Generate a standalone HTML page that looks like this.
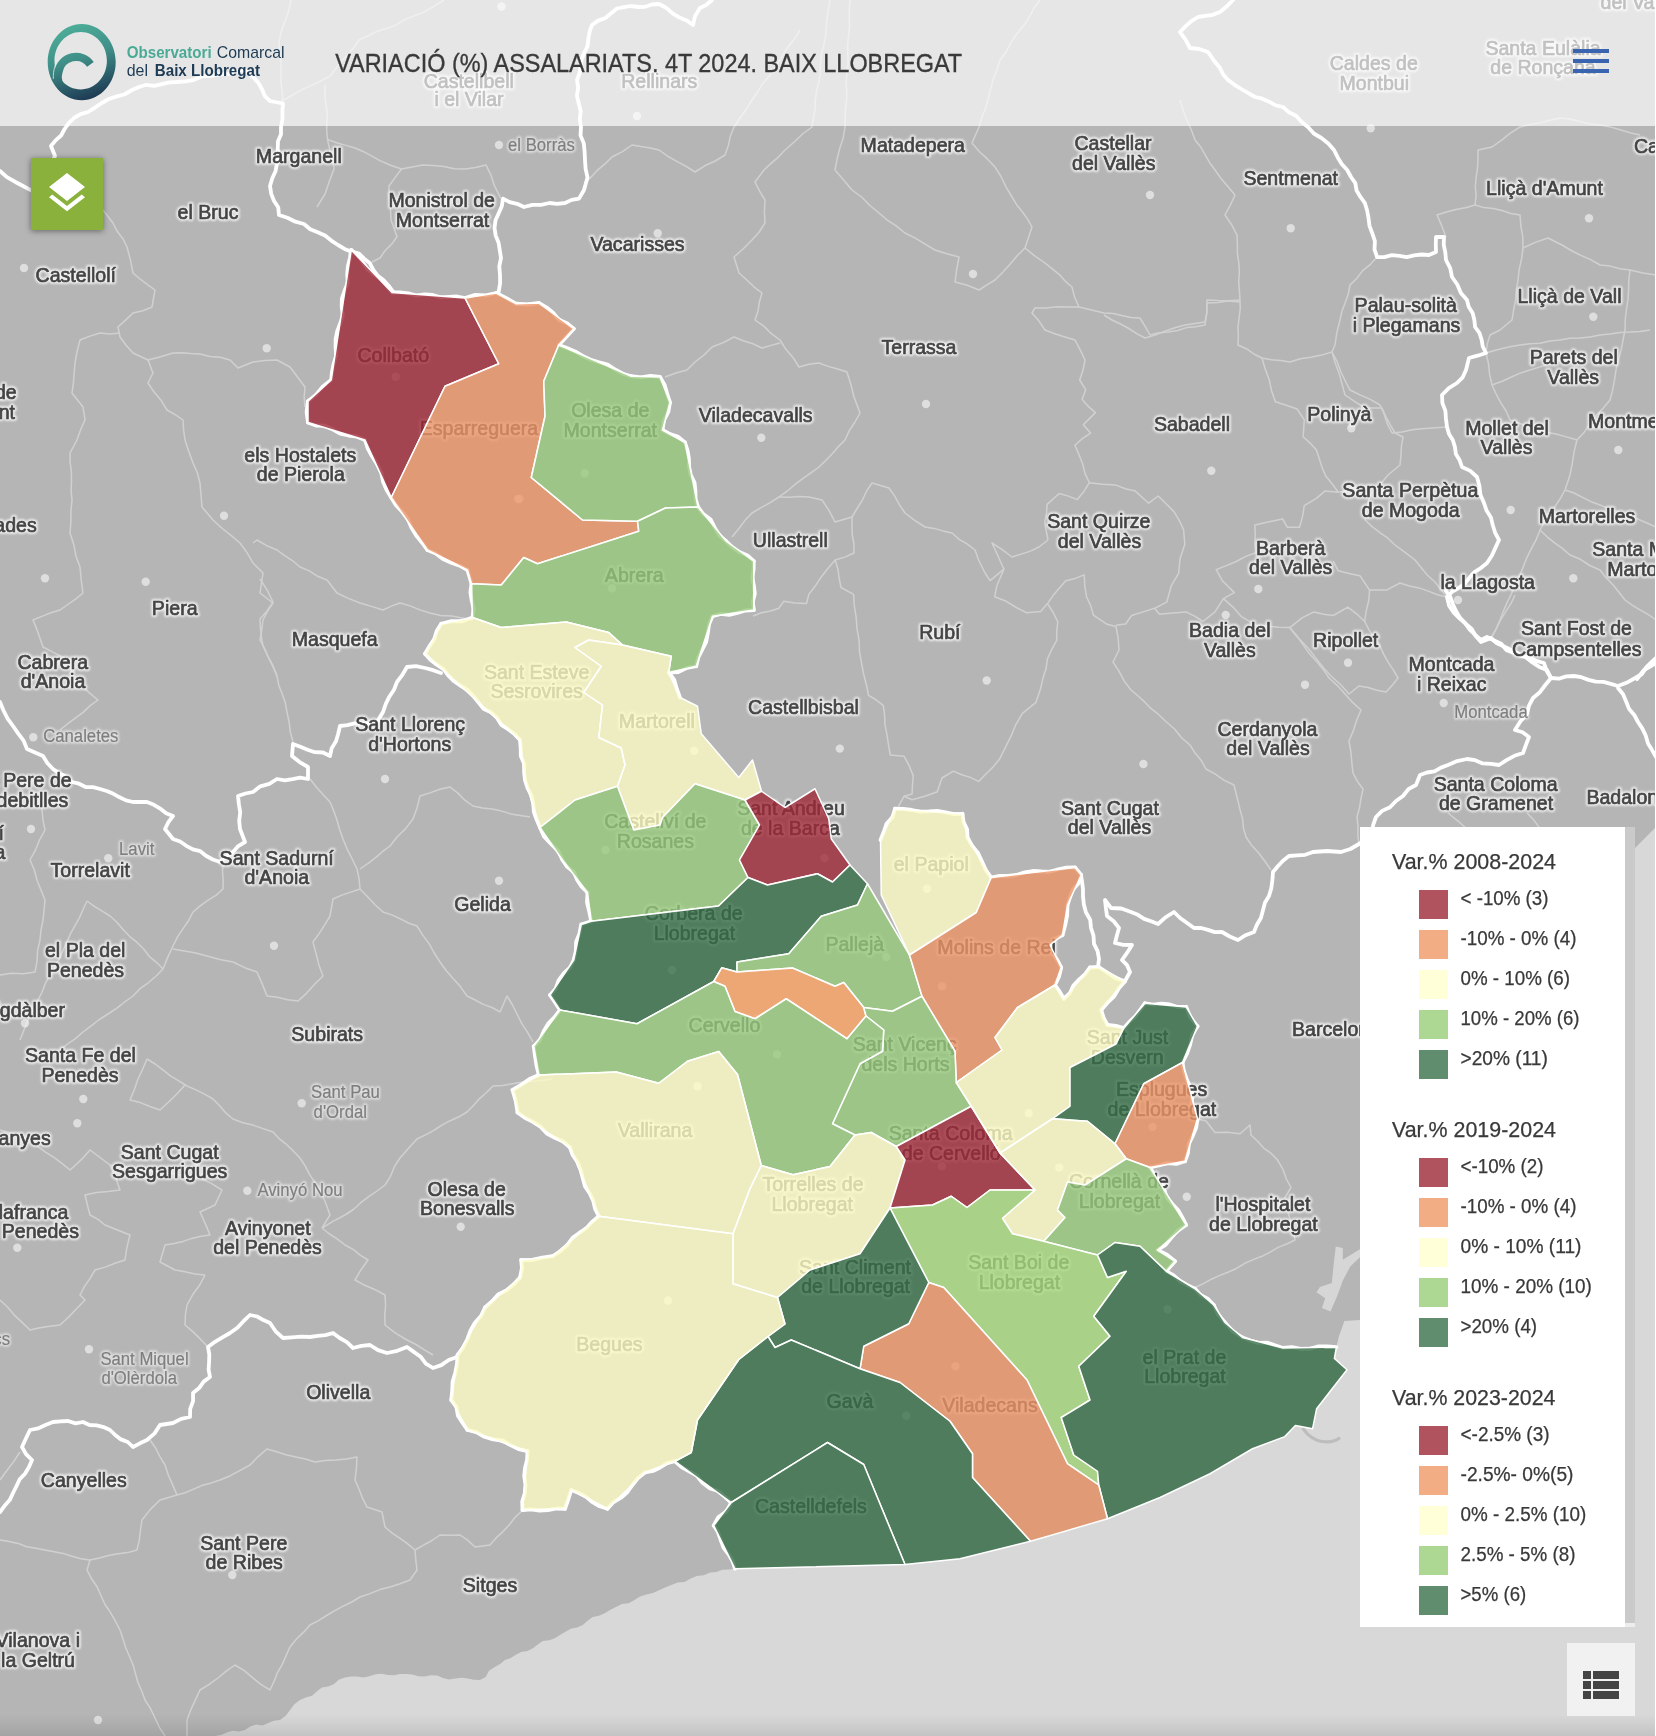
<!DOCTYPE html>
<html lang="ca"><head><meta charset="utf-8"><title>VARIACIÓ (%) ASSALARIATS. 4T 2024. BAIX LLOBREGAT</title>
<style>
html,body{margin:0;padding:0}
body{width:1656px;height:1736px;overflow:hidden;position:relative;background:#b5b5b5;font-family:"Liberation Sans",sans-serif}
.map{position:absolute;left:0;top:0;display:block}
.lb text,.lh text{font-family:"Liberation Sans",sans-serif;font-size:20.6px;stroke-linejoin:round}
.lh text.n{fill:#fff;stroke:#fff;stroke-width:4.2px;opacity:.78}
.lh text.s{fill:#fff;stroke:#fff;stroke-width:3.4px;opacity:.55;font-size:17.6px}
.lb text.n{fill:#444;stroke:#444;stroke-width:.7px}
.lb text.s{fill:#7e7e7e;stroke:#7e7e7e;stroke-width:.2px;font-size:17.6px}
.header{position:absolute;left:0;top:0;width:1656px;height:126px;background:rgba(255,255,255,.665)}
.hd{display:block}
.btn-layers{position:absolute;left:31px;top:158px;width:72px;height:72px;background:#8ab13c;box-shadow:0 1px 6px rgba(0,0,0,.45)}
.btn-layers svg{position:absolute;left:12px;top:11px}
.legend{position:absolute;left:1360px;top:827px;width:275px;height:800px;background:#fff;overflow:hidden}
.legend .leg{position:absolute;left:0;top:0;will-change:transform;filter:contrast(1)}
.legend .track{position:absolute;right:0;top:0;width:10px;height:800px;background:#ededed}
.legend .thumb{position:absolute;right:0;top:0;width:10px;height:796px;background:#cacaca}
.lt{font-family:"Liberation Sans",sans-serif;font-size:22px;fill:#393939;stroke:#393939;stroke-width:.25px}
.li{font-family:"Liberation Sans",sans-serif;font-size:19.300px;fill:#393939;stroke:#393939;stroke-width:.25px}
.btn-list{position:absolute;left:1567px;top:1643px;width:68px;height:73px;background:#f1f1f1}
.btn-list i{position:absolute;background:#444;height:8px}
.shade{position:absolute;left:0;bottom:0;width:1655px;height:21px;background:linear-gradient(to bottom,rgba(0,0,0,0),rgba(0,0,0,.03) 35%,rgba(0,0,0,.095))}
.edge{position:absolute;right:0;top:0;width:1px;height:1736px;background:#fff}
</style></head><body>
<svg class="map" width="1656" height="1736" viewBox="0 0 1656 1736">
<defs><filter id="bl" x="-5%" y="-5%" width="110%" height="110%"><feGaussianBlur stdDeviation="0.6"/></filter><filter id="bt" x="-5%" y="-5%" width="110%" height="110%"><feGaussianBlur stdDeviation="0.7"/></filter><filter id="bh" x="-5%" y="-5%" width="110%" height="110%"><feGaussianBlur stdDeviation="0.8"/></filter></defs>
<rect width="1656" height="1736" fill="#b5b5b5"/>
<polygon points="1656,827 1635,848 1600,900 1500,1100 1400,1250 1375,1310 1360,1320 1344.4,1321 1339,1336 1336.4,1347.2 1334.4,1358.5 1347,1369.7 1316.6,1408.8 1312.6,1428.7 1295.4,1425.4 1284.8,1436.6 1252.5,1448.75 1210,1473.75 1160,1497.5 1107.5,1518.75 1031,1541 960,1558.75 905,1564.5 735,1568.75 728.7,1569.6 722.4,1569.7 716.3,1572.1 710,1572.5 703.8,1575.2 696.9,1576 690.6,1578.5 684.6,1582.1 677.7,1582.6 671.3,1584.9 665,1587.5 659,1590.3 653,1593.1 646.4,1594.4 640.1,1596.5 634.5,1600.1 628.7,1603.3 621.8,1604 615.9,1607.1 610,1610 604.7,1613.3 599,1615.7 592.7,1617.1 587.6,1620.7 582.8,1625.1 577.1,1627.4 570.8,1628.8 565.4,1631.8 560,1635 554.8,1638.2 549.2,1640.3 542.8,1641.1 537.8,1644.6 532.9,1648.3 527.5,1651.1 521.2,1651.9 515.9,1654.7 510.7,1658 505,1660 500.1,1664.1 494.4,1667.3 489,1670.8 485.7,1676.9 480,1680 473.8,1679.8 467.7,1678.5 461.6,1677.7 455.4,1678.4 449.1,1679.4 443,1678.1 437,1675.6 430.9,1675.2 424.6,1676.4 418.4,1676.2 412.3,1674.4 406.2,1674 400,1674 393.9,1675.3 387.8,1675 381.6,1673.7 375.5,1674.3 369.5,1676.2 363.4,1677.4 357.2,1676.5 351.1,1676.6 345,1677.5 339,1679.6 334.1,1683.9 328.4,1686.5 321.9,1687.6 316.8,1691.4 312,1695.8 305.8,1697.4 300,1700 294.3,1704.3 290.1,1710.1 285.7,1715.7 280,1720 273.9,1720.8 268.2,1722.9 262.5,1725.4 256,1724.5 250.3,1726.5 244.8,1729.9 238.9,1731.4 232.5,1730.7 226.7,1732.4 221,1734.9 215,1736 1656,1736" fill="#d8d8d8"/>
<polygon points="1335.8,1246.6 1342.8,1247.9 1342.8,1259.8 1359.9,1249.2 1376,1240 1376,1250 1359.9,1257.2 1350.3,1266.4 1343,1280.3 1337.1,1296.2 1330.5,1311.5 1321.9,1308.1 1325.2,1298.2 1316.6,1292.3 1319.9,1286.9 1331.8,1283 1333.8,1263.1" fill="#d6d6d6"/>
<path d="M1303 1428.700Q1311 1440 1322 1441.500T1339 1438.500" fill="none" stroke="#bdbdbd" stroke-width="3.200" stroke-linecap="round"/>
<g fill="none" stroke="#e2e2e2" stroke-width="1.5" stroke-linejoin="round" opacity="0.62" filter="url(#bl)">
<polyline points="103,210 113,223 117.2,231.3 122.9,238.7 127,247 130.4,259.9 133,273 140.1,279 147.5,284.6 155,290 152,307 142.8,310.8 133,313 125.6,320.1 118,327 120,337 126.1,345.3 133,353 148,360 160.6,356.7 173,353 182,352.8 191,353.6 200,354 209.9,356.6 220.1,357.3 230,360 238,368 253,362 264.9,360.4 277,360 290,367 297.5,377 305,387 304.2,397 305,407"/>
<polyline points="120,333 110,333.9 100,333 89.9,336.1 80,340 77.1,351.4 75,363 74.2,373 73.4,383 72,393 83,407 85,420 80.6,429.8 77,440 70,453 70.1,462.4 71.4,471.8 71.5,481.2 71.1,490.6 72,500 70.9,511 70.9,522 70,533 73.7,544.2 75.9,555.9 80,567 81.2,580 83,593 75.6,599.1 67.8,604.5 60,610 50.8,612.8 41.9,616.4 33,620 36.7,628.9 39.9,637.9 43,647 51.9,651.6 60.8,656.1 70,660 71.1,669.5 72,679 81.1,685.4 89.4,692.9 98,700 90.1,705.6 83.1,712.4 75.3,718.2 67.5,723.9 60,730"/>
<polyline points="148,360 153,373 148,383 154.1,392.1 161.2,400.6 167,410 175.2,414.7 183,420 183.6,430 185,440 188.8,451.6 193,463 197.3,472.7 200,483 201,495 202,507 213,520 221.7,528 231,535.4 240,543 247,552.6 253,563 263,573 261.5,583 260,593 273,603 267.6,611.2 263,620 261.7,630 260,640 264.8,648.8 268.7,658 273,667 277,676 278.8,685.2 282.2,693.9 285.3,702.8 287,712 289.1,722 290.3,732.1 293,742"/>
<polyline points="253,543 257,540 266.7,545.7 277,550 284.7,555.6 292.7,560.8 300,567 309.2,570.9 317.7,576.3 327,580 337,593 348.3,598.4 360,603 371.5,606.4 383,610 391.3,606.1 400,603 410.1,605.9 419.9,609.9 430,613 440.6,615.5 451.6,616.1 462.3,617.9 473,620"/>
<polyline points="325,84.5 324.8,93.7 325.7,102.8 327.1,112 326.9,121.2 326.7,130.4 327.5,139.5 329.7,149.3 332.6,159 334,169 329.3,181.4 325,194 317,207"/>
<polyline points="327.5,139.5 336.5,142.8 345.8,145.4 355,148 363.6,151.7 371.8,156.1 380,160.6 390.6,165.3 401.5,169 412.1,167 422.6,165 433.3,165.4 443.8,166.6 454.3,168.8 465,169 475.6,167.5 486,165 491,175.2 494.5,186 501,198.6"/>
<polyline points="401.5,169 395.2,177.4 389,186 389.1,197.4 390.5,208.7 391,220 397,236.7 391.7,244.1 385.2,250.5 380,258 372,262"/>
<polyline points="283,103 282.3,92.8 281,82.7 281,72.5 281,62.3 279.5,52.2 279,42 281.3,31.3 285.1,21 288.7,10.7 291,0"/>
<polyline points="281,101 289.3,97 297.1,92.2 305.3,88.1 313.7,84.4 322,80.4 330,76 335.7,68.7 341.3,61.4 347.7,54.7 353.7,47.6 359,40 368,35.8 376.9,31.5 386.4,28.5 395.6,25.1 404.2,19.9 413.3,16.1 422.6,12.7 433.4,6.6 444,0"/>
<polyline points="585,183 591.7,176.4 598.1,169.6 605.3,163.6 612,157 622.4,151.7 632,145 641,146.6 650.1,147.9 659,150 667.6,156.1 676.8,161.3 686.1,166.3 695,172 704.7,165.8 715.2,161 725,155 728.3,145.8 730.3,136.1 734,127 740,118 746.3,109.2 752,100 757.6,92 762.7,83.6 769.2,76.2 774.8,68.3 780,60 784.6,52.2 789.7,44.8 795.3,37.7 800,30"/>
<polyline points="830,0 828.4,9 827.1,18.1 826.3,27.2 825.5,36.4 823.8,45.4 821.4,54.3 820.6,63.4 820.2,72.6 818.8,81.7 816.7,90.7 815.3,99.7 815.1,108.9 813.4,117.9 812,127 802.5,134 793.9,142.3 785,150 778.4,157.1 771,163.4 764,170 755,182 759.6,191.2 765,200 764.4,211.5 765,223 759.2,232 752,240 743.3,248.8 734,257 739,273 746.6,279.7 753.9,286.8 762,293 759.4,301.9 758,311.2 755,320 763.8,326.1 771.4,333.7 780,340 785.9,349.3 793.1,357.7 799,367 808.8,364.2 819,363 828.2,366.4 837.7,369 847,372 850.9,384.4 854,397 860,413 855,422 849.3,430.6 845,440 838.4,446.6 832.3,453.7 825.7,460.5 819,467 811,472.9 802.7,478.7 794.7,484.7 787.1,491.2 779,497 770.2,502.7 761,507.7 752,513 744.8,520.6 738.6,529 732,537"/>
<polyline points="780,343 771,345.4 762,348 752.9,343.7 743.3,340.8 734,337 723.3,342.6 712,347 704,355 695,362 687,370 675.9,373 665,377"/>
<polyline points="845,127 843.2,137.9 839.7,148.4 837.1,159.2 835,170 843.6,179.9 852,190 861.6,197 869.9,205.5 879,213 887.3,220.1 896.5,226.2 905,233 915.3,238.1 925.1,244.1 935,250 946.9,253.8 959,257 956.7,269.5 955,282 967.3,285.2 979,290 986.9,284.8 995,280 1002.8,272.3 1010.2,264.1 1017.2,255.7 1025,248 1028.5,237.5 1032,227 1027.6,219.1 1022.3,211.8 1016.6,204.7 1012,197 1006.1,187.1 1001.1,176.7 995,167 987.4,158.9 979.2,151.5 972,143 979,127 981.8,117.4 985.6,108 988.3,98.4 990.7,88.6 993.4,79 997,69.6 1000,60 1005.4,52.8 1009.8,44.9 1014.5,37.2 1019.9,29.9 1025.7,23 1030.3,15.2 1034.6,7.2 1040,0"/>
<polyline points="850,0 849.4,9.1 849.3,18.1 849.6,27.2 848.5,36.3 847.6,45.3 847.8,54.4 848.1,63.5 846.9,72.6 846.2,81.6 846.6,90.7 846.7,99.8 845.5,108.8 845.1,117.9 845,127"/>
<polyline points="1025,248 1034.7,255.8 1045,263 1052,268.7 1059.1,274.3 1065.1,281.1 1072,287 1074.7,297.3 1079,307 1091.5,309.9 1104,313 1113.1,313.4 1122,315.6 1130.9,317.5 1140,318 1145.1,326.4 1150,335 1159.1,332.7 1168.4,332 1177.6,330.5 1186.5,327.6 1195.8,326.7 1205,325 1206.8,312.6 1207,300 1218,300.6 1229,300.9 1240,302"/>
<polyline points="1079,307 1068,307 1057,306.7 1046,308.1 1035,308 1032,313 1039,321.1 1045,330 1054.8,333.8 1064.9,337 1075,340 1080.2,349.9 1085,360 1083,370.2 1079.7,380 1085.7,389.7 1082.1,399.3 1088.3,406.4 1095.4,412.6 1083.3,424.7 1090.6,433.1 1082.3,438.6 1074.9,445.2 1078.9,454.4 1082.6,463.8 1085.1,473.6 1089.4,482.7 1083.3,492.3 1077.3,499.6 1068.4,496.1 1059.2,493.5 1047.1,504.4 1046.5,513.5 1044.7,522.5 1048,540"/>
<polyline points="1089.4,482.7 1102.6,484.3 1115.9,485.1 1125.4,488.8 1135.3,491.1 1148.6,503.2 1158.2,496 1166.1,503.7 1173.9,511.6 1179.2,520.4 1183.6,529.8 1184.8,544.3 1180,558.7 1178.7,573.2 1171.5,585.3 1166.7,602.2 1154.6,608.3 1143.1,611.9 1131.6,615.5 1125.6,624 1115.9,625.2"/>
<polyline points="779,497 789,497.3 799,496.6 809,497 822,500 829.1,510.7 835,522 852,517 857.1,508.5 862.3,500.2 866.5,491.2 872,483 889,488 894.7,496.1 899.5,504.8 905,513 914.7,520.4 925,527 934.1,528.4 943,530.9 952,533 959.2,539.4 967.4,544.2 975,550 978.6,560 985,573"/>
<polyline points="1003.9,569.2 998,556 992,543 1002.2,549.7 1012,557 1021.2,554.1 1030.3,551.1 1039,547 1048,540"/>
<polyline points="852,517 852,526 852.3,535 853.9,544 854,553 844.8,557.1 835.2,560 828.1,568.2 821.4,576.7 815.4,585.8 808.8,594.4 806.5,603.6 795,603 783.6,601.3 779,608.2 770.4,611 761.5,612.8 753,616"/>
<polyline points="835.2,560 837.9,569 839.2,578.3 841,587.5 853.6,594.4 854.3,605.9 856.2,617.3 857,628.8 859.1,640.2 859.5,651.9 861.6,663.3 863.6,674.1 866.4,684.7 868.5,695.4 876.3,700 883.4,705.7 884.6,715.3 885,724.9 886.9,734.4 888.5,744.7 890.3,755 904,756.2 909.2,765.7 913.2,775.7 912.5,784.8 912.1,794 904,796.3 898.3,806.7"/>
<polyline points="985,573 990.1,580.7 1003.9,569.2 997,585.2 994.7,596.7 1006.2,601.3 1016.3,607.5 1026.8,612.8 1040.6,611.6 1047.5,603.6 1053.1,595.6 1059.4,588.1 1065.8,580.7 1075.2,578.4 1084.2,574.9 1084.8,585.9 1086.5,596.7 1090.7,605.6 1093.4,615.1 1107.1,624.3 1116,626.5"/>
<polyline points="1047.5,603.6 1053.2,612.5 1057.8,622 1056.7,631.1 1056.7,640.3 1051.8,649.3 1047.5,658.7 1046,668.8 1042.9,678.6 1040.6,688.5 1036,702.3 1022.2,713.7 1015.7,724.8 1010.8,736.7 1005,748.1 999.3,759.6 992.8,767.2 985.6,774.2 978.6,781.4 970.4,777.4 961.7,774.8 953.4,771.1 941.9,778 937.3,791.8 924.8,796.2 912.1,799.8 904,796.3"/>
<polyline points="1180,100 1183.2,110.2 1186.9,120.2 1191.4,130 1195,140 1200.7,147 1205.2,154.8 1209.7,162.7 1215,170 1221.2,178.7 1228.1,186.8 1235,195 1230.3,205.1 1225,215 1231.6,224.6 1237,235 1237.4,244.3 1237.4,253.6 1238.8,262.8 1239.4,272.1 1238.7,281.4 1239.4,290.7 1240,300 1240.2,309 1239.1,318 1238,327 1238.4,336 1238,345 1246.4,348.7 1253.8,354 1262,358 1271.3,359.8 1280.7,360.5 1290,362 1300.3,358.7 1311,357.2 1321.6,355.1 1332,352 1335.1,362.8 1339.1,373.3 1342.1,384.2 1345,395 1354.9,401.7 1365,408 1382,408 1385.8,416.6 1390.3,424.9 1395,433"/>
<polyline points="1104,315 1112,320 1120.5,324 1128.8,328.5 1136.7,333.6 1145,338 1155.1,335.1 1164.9,331.2 1174.9,327.8 1185,325 1195,323.5 1205,322 1206.8,312.6 1207,303 1218,302.4 1229,300.7 1240,300"/>
<polyline points="1262,358 1265.2,369.1 1269.3,380 1271.6,391.1 1275.4,401.7 1286.3,405.3 1297.1,409 1304.3,419.9 1303.1,436.8 1310.1,443.1 1316.4,450 1319.4,458.9 1322.2,468 1326.1,476.6 1332.5,484.2 1338.2,492.3 1324.9,491.1 1316.4,498.4 1304.3,505.6 1302.5,516.6 1299.5,527.3 1287.4,527.3 1282.6,518.9 1265.7,522.5 1254.8,524.9 1255.3,534.2 1254.9,543.5 1256,552.7 1245.8,556.4 1236.3,561.5 1226.3,565.6 1216.2,569.6 1222.2,580.5 1234.3,592.6 1223.4,598.6 1215,611.9 1202.9,621.5 1194.7,616.2 1186,611.9 1172.7,612.9 1159.4,614.3 1154.6,608.3"/>
<polyline points="1332,352 1337,361.3 1340.6,371.2 1345.1,380.7 1350,390 1360,394.9 1370.3,399.4 1380,405 1384.2,414.2 1387.4,423.9 1392,433 1402,431.9 1411.9,429.8 1421.9,428.7 1432,428 1447,427"/>
<polyline points="1395,433 1403,437 1401.4,446.3 1400.9,455.7 1400,465 1388,475 1379.4,485.4 1370,495 1360,492.4 1350,490 1338.2,492.3"/>
<polyline points="1370,495 1367,507.4 1365,520 1372.2,526.6 1379.9,532.6 1387.9,538.2 1395,545 1405.1,552.4 1415,560 1421.2,567.6 1427.4,575.2 1434.7,581.8 1440.8,589.4 1447,597"/>
<polyline points="1377,257 1370.5,264.3 1362.9,270.4 1356.9,278.2 1350,285 1348.3,294 1345.3,302.6 1342,311.1 1340,320 1336.9,332.4 1335,345 1332,352"/>
<polyline points="1223.4,598.6 1233,607.1 1241.5,616.7 1256,625.2 1267.3,626.1 1278.6,627.3 1289.9,627.6 1301.9,617.9 1314,611.9 1323.5,614.3 1333.3,615.5 1347.8,607.1 1356.6,613.8 1364.7,621.5 1366.2,611 1368.7,600.7 1369.6,590.1 1386.5,590.1 1400,583 1409.3,586 1419,587.9 1428.3,591.1 1437.4,594.8 1447,597"/>
<polyline points="1369.6,590.1 1359.9,575.7 1349,573.6 1338.2,570.8 1333.3,561.2"/>
<polyline points="1116,626.5 1118.2,638.2 1119,650 1113,662 1119.1,671.3 1124.3,681.1 1131,690 1137.9,695.8 1144.6,701.9 1150.9,708.4 1158,714 1166.1,721.7 1174.5,729 1181.6,737.7 1190,745 1195.1,753.1 1201.3,760.6 1206,769 1215.4,774.2 1224.3,780.4 1234,785 1238,801 1240.1,810 1242.6,818.9 1243.5,828.1 1246,837 1251.8,845.6 1258.9,853.2 1265.1,861.5 1271,870"/>
<polyline points="1289,627 1296.6,635.3 1302.9,644.6 1309.5,653.7 1317,662 1323.4,669.7 1329,678 1337.4,685.6 1345,694 1352.6,702.4 1361,710 1356.7,720.2 1353.3,730.8 1349,741 1350.8,751.6 1351.8,762.3 1353,773 1357.4,781.4 1363,789 1361,798.3 1359.5,807.8 1357,817 1358,826 1357.8,835 1359,844"/>
<polyline points="1515,595 1510.8,603.9 1505.4,612.2 1500.2,620.6 1496,629.5 1491,638"/>
<polyline points="1448,813 1457.7,820.8 1467,829"/>
<polyline points="1527,813 1533.4,819.6 1539,827"/>
<polyline points="1364.7,621.5 1369,629.9 1374.2,637.7 1379.7,645.3 1383.5,653.9 1388.1,662.1 1393.3,669.9 1398,678 1392.3,685.3 1386,692 1376.9,690.3 1368.1,687.5 1359,686 1349,694 1340.5,684.5 1331,676 1324.8,669.3 1319,662.3 1313.6,655.1 1308,648 1301.7,641.4 1295.3,634.9 1289.9,627.6"/>
<polyline points="1446,237 1441.8,225.9 1437,215 1446.4,212 1455.9,209.5 1465.5,207.7 1475,205 1476.1,195.9 1475.3,186.6 1476.1,177.5 1477.5,168.4 1478,159.2 1478,150 1492,147 1501.3,140.3 1510.3,133.2 1520,127 1529.9,124.5 1540.1,122.9 1550,120.3 1560,118 1570.1,119 1580,121.5 1589.9,124 1600,125 1610.1,126.9 1620.1,129.7 1629.9,132.8 1640,135"/>
<polyline points="1475,205 1483.9,207.6 1493.1,208.4 1502.1,210.5 1510.9,213.5 1520,215 1520.9,226 1522.8,236.9 1523,248 1535.3,242.4 1548,238 1562,245 1571.3,250.5 1580.8,255.4 1590.7,259.6 1600,265 1610.1,266.1 1619.9,268.7 1630,270 1642.9,273 1656,275"/>
<polyline points="1523,248 1521.6,258.7 1519.2,269.3 1518,280 1516.4,290 1515.6,300.1 1513.6,310 1512,320 1500,330 1490,335 1487.3,343.8 1486,353"/>
<polyline points="1486,353 1497.2,349.7 1508.5,347.1 1520,345 1530,343.7 1540.1,343.3 1550,341 1560,340 1569.9,338.2 1580,337.9 1590.1,337 1600,335 1610,334.1 1619.9,332.4 1630,332.1 1640,331.4 1650,330"/>
<polyline points="1486,353 1488.5,363.6 1489.6,374.4 1492,385 1501.6,381.5 1510.9,377.2 1520.2,373.1 1530,370 1540.1,366.9 1550.1,363.8 1560,360"/>
<polyline points="1492,385 1496.1,394 1500.7,402.6 1506.1,411 1510,420 1518.8,422.9 1527.2,426.8 1536.1,429.4 1545,432 1555.8,434 1566.4,436.9 1577,440 1574.1,451.6 1572.3,463.3 1570,475 1565,490 1560.4,498.3 1555.3,506.2 1549.5,513.7 1544.7,521.8 1540,530 1536.3,539.4 1531.5,548.3 1527,557.3 1523.3,566.6 1519.6,576 1515,585 1511.4,593.8 1507.2,602.4 1503.4,611.1 1500,620 1495.4,630.2 1490,640"/>
<polyline points="1565,490 1574.1,493 1582.5,497.4 1591.1,501.7 1600,505 1609.9,509.1 1620.1,512.2 1630.3,515.5 1640,520 1656,527"/>
<polyline points="1540,530 1547,536.8 1554.7,542.8 1562.6,548.6 1570,555 1580.4,559.3 1589.8,565.5 1600,570 1606,577.7 1612.9,584.7 1619,592.3 1625,600 1632.5,605.4 1640.4,610.2 1648.5,614.6 1656,620"/>
<polyline points="1630,270 1628.8,280 1628.6,290 1627.9,300 1626.4,310 1625.2,320 1625,330 1623,340 1621.2,350.1 1618.4,360 1616,369.9 1614.5,380.1 1612.6,390.1 1610,400 1603.3,407.9 1596.2,415.5 1590,423.8 1584.1,432.4 1577,440"/>
<polyline points="1197.5,1118.75 1206,1121 1215,1132.5 1227.5,1132.3 1240,1133.8 1250,1125 1251,1135 1257.6,1141.3 1263.7,1148.1 1271.2,1153.4 1277.5,1160 1282.7,1168.8 1286.2,1178.5 1291,1187.5 1285,1197.5 1286.9,1208.3 1289.9,1218.8 1293,1229.3 1295,1240 1286.7,1244 1278.1,1247.4 1270.1,1252.1 1261.9,1256.3 1253.2,1259.6 1244.8,1263.3 1236.9,1268.2 1228.5,1272 1219.9,1275.4 1211.5,1279.2 1203.3,1283.6 1195,1287.5"/>
<polyline points="260,579 267.2,590.1 273,602 267,610.9 260,619 260.5,628.1 261.4,637.1 263,646 267.7,656 273,665.7 277,676"/>
<polyline points="310,779 316.3,787 323,794.6 330,802 333.8,811.1 337.1,820.3 339.7,829.8 343,839 347.2,849.2 352.2,859 357,869 359.1,878.9 360,889 350.9,892.1 341.8,895.1 333,899 330,916 324.7,924.9 319.1,933.6 313,942 316,953.4 318.9,964.9 323,976 314.6,984.2 306.7,993.1 298,1001 287.6,999.7 277.4,997.2 267,996 262.2,983.9 257,972 244.7,967.7 233,962 219.9,959.4 207,956 195.8,953 184.4,951.1 173,949"/>
<polyline points="360,869 367.8,863.6 375.3,857.9 382.4,851.7 390,846 397.3,836.7 405.8,828.4 413,819 417.1,807.7 420,796 430,792.9 439.8,789.3 450,787 457.9,793.1 464.9,800.2 473,806 482.5,808.1 492.1,809 501.6,811.1 510.9,813.9 520.4,815.4 530,817"/>
<polyline points="360,889 367.6,896.8 375,904.7 383,912 391.8,914.9 400.1,918.7 408.3,923 417,926 422.7,935.1 429.1,943.6 434.2,953 440,962 446.3,970.8 453.6,978.9 460.7,987.1 467,996 475.2,1000 483.3,1004.4 492,1007.5 500,1012 507,996 512.5,1005 517.2,1014.5 522,1023.9 527.9,1032.8 533,1042"/>
<polyline points="223,862 222.5,871 223.2,880 223,889 216,895.4 207.8,900.3 200.2,905.9 193,912 188.5,920.8 182.8,928.9 177.4,937.1 173,946 167.7,957.4 163,969 155.9,976.2 148.3,982.8 140,988.7 133,996 124.6,1002 116.6,1008.4 108,1014 99.3,1019.5 91.2,1025.8 83,1032 75.7,1038.4 67.6,1044 60,1050"/>
<polyline points="87,901 94.4,906.4 102.2,911.1 110,916 116.9,922.3 123.1,929.4 129.5,936.3 136.8,942.2 143.5,948.8 149.2,956.3 156.4,962.3 163,969"/>
<polyline points="87,901 83.1,909.3 79.5,917.6 75,925.6 70.5,933.6 67,942 62.9,950.5 59.2,959.1 54.4,967.2 49.6,975.3 45.3,983.6 41.9,992.5 37.5,1000.8 33,1009 28.3,1019.2 24.1,1029.6 20,1040"/>
<polyline points="0,975 11.6,973.3 23.4,973.7 35,972 37,961.4 37.6,950.6 40,940 41,930 43,920.1 44.1,910 45,900 41,890.1 37,880.2 34.3,869.8 30,860 35.4,850.2 39.6,839.8 45,830 43,820.1 42,809.9 40,800"/>
<polyline points="147,1059 155.2,1064 162.9,1069.9 170.5,1075.9 178.8,1080.9 187,1086 195.9,1089.9 204.6,1094.2 213,1099 219.7,1105.7 225.8,1112.9 233,1119 242.8,1122.8 253.1,1125.1 263,1128.6 273,1132 279.4,1138.9 286.8,1144.7 293.6,1151.2 300,1158 305.1,1165.9 309.5,1174.3 314.7,1182.2 320,1190 325.4,1202.3 330,1215 322,1228"/>
<polyline points="552,1079 542.2,1080.5 532.3,1081.3 522.4,1082.1 512.7,1083.7 502.9,1085.4 493,1086 486.5,1092.5 479.6,1098.6 473.5,1105.5 467,1112 458.9,1116.8 450.2,1120.7 441.8,1125.1 433.9,1130.4 425.5,1134.9 417,1139 408.3,1148.4 400,1158 394.4,1166.7 390.5,1176.3 385,1185 377,1191 368.7,1196.6 360.8,1202.7 353.4,1209.5 345,1215 333.3,1221.2 322,1228"/>
<polyline points="147,1059 142.6,1069.2 137.9,1079.3 134.3,1089.8 130,1100 140.2,1102.6 150.1,1106.5 160,1110 168.6,1102 177.1,1093.7 185,1085"/>
<polyline points="0,1130 10.2,1132.9 20,1136.6 30,1140 37.7,1146.4 45.8,1152.3 54.3,1157.7 62.2,1163.7 70,1170 77,1163.7 83.8,1157.1 90,1150 100,1157.5 110,1165 115.5,1177.3 120,1190 108.3,1191.5 96.6,1192.6 85,1195 87.4,1205 90,1215 98,1219.3 105,1225 117.5,1230 130,1235 126.9,1247.4 125,1260 114.9,1263.2 105.1,1267.1 95,1270 90.1,1278.4 84.5,1286.4 80,1295 85,1300 76.8,1308.4 68.7,1317 60,1325 49.9,1326.2 39.9,1327.8 30,1330 22.4,1322.6 14.6,1315.4 7.7,1307.3 0,1300"/>
<polyline points="110,1165 119,1166.5 128.1,1167.2 137.1,1168.4 145.9,1170.9 155,1171.8 164,1172.6 173.1,1173.5 182,1175.3 190.9,1177.1 200,1178 211.3,1183.4 222,1190 215,1205 200,1212 205.2,1223.4 210,1235 200.9,1236.3 191.9,1238.4 183.1,1241.4 174.1,1243.5 165,1245 160,1262 175,1270 185,1271.8 194.9,1274 205,1275"/>
<polyline points="205,1275 199.5,1285.3 192.6,1294.8 187,1305 185.4,1314.9 185,1325 193.1,1331.9 200.6,1339.4 208,1347"/>
<polyline points="322,1228 329.5,1234 337.5,1239.1 345,1245 353.1,1249.4 360.2,1255.1 368,1260 361,1269.7 355,1280 364.8,1285.3 375.2,1289.7 385,1295 385.6,1305 384.8,1315 385,1325 395.5,1333.2 407,1340 416,1344.5 424.4,1349.9 433,1355"/>
<polyline points="150,1440 155.6,1448 159.9,1456.7 165,1465 168.4,1475.2 172.8,1485.1 177,1495"/>
<polyline points="177,1495 160,1500 150.4,1509.4 142,1520 140.5,1530 139.3,1540.1 137,1550 127.7,1552.6 118.2,1553.8 108.7,1555.5 99.4,1557.9 90,1560 80.8,1558.7 72,1556.2 63.1,1553.4 54.1,1551.7 45,1550 35.9,1548.3 26.8,1546.7 18.1,1543.4 9.1,1541.4 0,1540"/>
<polyline points="177,1495 185.8,1492.5 194.2,1488.9 202.5,1485.2 211.4,1482.9 220,1480 230.4,1475.7 240.2,1470.4 250,1465 258.2,1456.6 267,1449 276.6,1451.7 286,1454.8 295.7,1457.1 305.5,1459 315,1462 325.5,1460.4 336,1459.9 346.6,1459 357,1457 356.4,1468.5 355,1480 359,1489 362.5,1498.2 367,1507 382,1512 385,1527 392.2,1533.1 400.1,1538.4 407.7,1543.9 415,1550 423.4,1545.1 432,1540.5 440,1535 450,1535.2 460,1535 467.9,1540.4 475,1547 490,1545 496.1,1537.9 503,1531.6 509.4,1524.8 515.1,1517.3 522,1511"/>
<polyline points="415,1550 415.8,1560 417,1570 410,1580 400.1,1583.7 390.1,1587 379.8,1589.6 370,1593.6 360,1597 351.8,1602 343.2,1606.2 334.8,1610.6 326.6,1615.5 318.5,1620.7 310,1625 303.4,1632.4 296.3,1639.3 290,1647 286.1,1655.6 282.3,1664.4 277.5,1672.6 274.1,1681.4 270,1690 260.8,1684.4 252.5,1677.6 244.2,1670.7 235,1665 226.2,1671.2 217.9,1678 209.2,1684.3 200,1690 195.4,1699.9 190.8,1709.8 187,1720 187,1736"/>
<polyline points="90,1560 87,1570 91.5,1578.7 97.1,1586.8 101,1595.8 105.1,1604.7 110.7,1612.8 115.5,1621.3 120,1630 122.9,1638.8 125.7,1647.7 129.5,1656.2 133,1664.8 135.5,1673.8 138,1682.8 141.8,1691.3 145,1700 150.6,1708.7 155,1718 159.4,1727.3 165,1736"/>
<polyline points="0,1480 6.7,1470.7 13.7,1461.6 20,1452"/>
</g>
<g fill="none" stroke="#fff" stroke-width="3.8" stroke-linejoin="round" stroke-linecap="round" filter="url(#bt)">
<polyline points="0,171 6.9,177.1 14.9,181.7 23,186 31.7,190.6 40,196 41.9,189.1 44.9,182.6 48.4,176.3 49.8,169.2 51.8,162.4 55,156 51,146 55.6,140.4 61.1,135.5 64.6,129 68.8,123.1 74,118 80.6,114.1 88.1,112 94.6,107.8 101,103.5 108.2,99.3 116.1,96.6 124.2,94.5 131.4,90.3 139,87 146.4,84.8 154.3,85.9 161.8,84.1 169.3,82.3 177,82 185.7,81.4 194.1,79.8 202.3,76.2 211,76 219.5,74.3 228.1,73.8 236.5,71.7 245,70 254,78 258.7,83.3 262.1,89.5 264.8,96.1 270,101 283,103.5 282.4,111.3 282.5,119.2 281,127 281,134.3 278,141.2 277.7,148.5 278.2,155.8 277,163 275.6,170.9 272.3,178.3 270,186 271.2,193.6 273.9,200.7 278.2,207.3 279,215 287.4,217.8 295.4,221.7 304,224 310.2,229.2 317.7,232.3 325,235.6 331.3,240.6 338,245 344.6,248.9 351.6,251.7 359,253.5 364.1,258.7 369.9,263.3 373.4,270 377.8,275.8 383.7,280.3 388.6,285.7 393,291.6"/>
<polyline points="498.7,291.6 500.1,283.3 500,274.8 499.3,266.3 501,258 499.8,250.4 498.6,242.8 495.7,235.6 494.5,228 495.5,220.3 498.7,213.3 501.8,206.2 503,198.6 509.7,202.1 517.1,203.8 524,207 532.4,204.9 541.1,204.8 549.5,203 557.2,203.8 565,203 571.7,199.9 579,198.6 584,190 587.5,177.5 585.6,168.8 585,160 584.6,151.7 583.8,143.4 580.5,135.4 581,127 579.8,119.2 580.7,111.2 578.8,103.5 576.9,95.8 578.2,87.8 577,80 579.6,73.3 580.7,66.2 581.7,59.1 584.4,52.5 587.6,46 588.3,38.8 589.6,31.7 592,25 598.1,20.6 605.4,18 611.1,13.2 617,8.5 623.9,7.2 630.9,6 638.1,7 645.1,6.8 652,4.5 659,4 666.1,7.7 672.2,13.1 679,17.3 686.5,20.4 693,25 695.1,15.9 700,8 706.5,4.8 712,0"/>
<polyline points="441,673 433.1,670.2 425,668 416.1,666.2 407,667 402.4,674.8 397,682 394,689.7 389.3,696.7 385.7,704.1 383,712 377,722 369.7,723.8 362.2,723.4 354.7,723.3 347.4,725.1 340,726 338.2,733.7 336,741.3 331.7,748.2 330,756 323,752.5 314.9,752.2 307.5,749.7 300.3,746.7 293,744 292,756 299.6,762.1 308,767 308,779 300.2,777.7 292.5,779.1 284.8,780.3 277,779 269.3,783.9 260.3,786.3 253,792 245.4,793.5 238,796 238.9,804.2 240.2,812.4 239.2,820.8 240,829 245,842 238.2,846.1 233,852 226.3,856.7 220,862 212.9,859.5 206.3,856 200.3,851.2 192.9,849.4 186.3,845.8 180.1,841.5 173,839 165,829 168.4,822.1 173,816 166.1,813.3 160.2,808.6 153.9,804.8 147,802 140,801.9 133,802 126,800.4 119.6,797.3 113.4,793.8 106.8,791 100,789 93,787.2 85.6,787 79,783.7 72,782 66.4,776.6 59.3,773.4 53,769 47.3,763 43,756 35,752.5 27,749 23.6,740.6 18.1,733.4 13,726 7.6,718.6 3.5,710.5 0,702"/>
<polyline points="457,1357 448.7,1360 441.3,1365.1 433,1368 425.8,1363.6 420.6,1356.7 413.8,1351.9 407,1347 397.3,1350.8 387,1353 378,1350.1 370,1345 361.4,1345.8 353,1348 346.9,1342.2 339.7,1338 333,1333 325.5,1335.1 317.7,1335.9 310,1337 301,1336.7 292,1337.4 283,1338 275.6,1331.3 270,1323 263.4,1320.1 257.1,1316.5 250,1315 243.5,1321.2 237.4,1327.8 230,1333 222.4,1337.3 215,1341.8 208,1347 209.3,1354.4 209.1,1362 208.6,1369.6 210,1377 203.7,1381.6 199.1,1388.1 193,1393 193.1,1401.1 190.2,1408.9 190,1417 181.1,1418.9 173,1423 160,1425 154.6,1433.4 147,1440 139.9,1443.3 133,1447 127.8,1442 120.9,1439.4 115.2,1435 110,1430 103.5,1427.1 96.7,1425.3 89.5,1425 83,1422 75.5,1423.4 68,1421 60.5,1421.3 53,1422 45.4,1425 38,1428.4 30,1430 25.9,1438.5 22,1447 26,1454.2 32,1460 29,1467.1 25.1,1473.6 19.7,1479.3 16.4,1486.2 13,1493 9.7,1500.1 4.6,1505.8 0,1512"/>
<polyline points="1233,0 1226.8,6.3 1220,12 1212.9,14.8 1205.4,15.8 1198,17 1191.3,21.2 1185.5,26.4 1180,32 1185.5,39.7 1190,48 1199.2,49 1208,52 1213.7,60.2 1220,68 1223.2,74.5 1228,80 1235.3,85.3 1243,90 1255,97 1262.3,98.7 1269.1,101.7 1275.7,105.4 1283,107 1289,112.3 1296.3,116 1301.7,122 1308,127 1313.8,133.5 1321.4,138 1328.3,143.4 1334,150 1337.6,157.2 1341.7,164 1347.2,170 1351,177 1355.3,183.1 1356.6,190.6 1360.4,196.9 1364.8,202.9 1367,210 1368.5,217.9 1369.5,225.8 1372.3,233.4 1374.9,241.1 1374.5,249.3 1377,257 1384.4,257.1 1391.8,255.1 1399.3,255.8 1406.8,257.2 1414.1,255.3 1421.5,254.5 1429,255 1436,252 1435.8,244.5 1436,237 1444,237 1443.7,244.7 1445.3,252.3 1446,260 1450.2,268.1 1452,277 1457.3,284.5 1460.9,293 1467,300 1468.7,306.8 1472.6,312.9 1474.3,319.8 1475.1,327 1479.4,332.9 1481.6,339.6 1482.8,346.7 1486,353 1477.5,355.7 1469,358 1466,370 1462.7,377.3 1457,383 1448.8,388.1 1442,395 1442.4,403.1 1445.4,410.9 1446,419 1447,427 1449,433.9 1452.8,440 1454.9,446.9 1455.9,454.1 1459.7,460.3 1462,467 1470.3,470.9 1477,477 1479.4,485.7 1480.4,494.7 1484,503 1486.6,510.6 1490.9,517.4 1492.8,525.3 1495.2,532.9 1499,540 1495.4,547.9 1491.8,555.7 1487,563 1481.2,567.8 1474.8,571.8 1469.7,577.3 1465,583.4 1458.8,587.8 1452.3,591.7 1447,597 1449.1,605.6 1454,613 1459.5,618.3 1465.3,623.3 1469.8,629.6 1475.2,635 1481,640 1487,637 1494.1,640.5 1501.2,643.8 1506.6,650.2 1514,653 1521.3,656.1 1529.3,657.1 1536.4,660.9 1544,663 1546.7,670.9 1551,678"/>
<polyline points="1446,591 1450.4,597.1 1452.9,604.2 1456,611 1460.1,617.9 1465.6,623.7 1471.7,629 1475.7,636 1481,642 1491,638 1496.9,643.3 1504.1,646.4 1511,650 1518.4,653.6 1525.8,657.3 1532.4,662.4 1539.3,666.9 1547,670 1551,678 1545.3,685 1539.9,692.2 1533,698 1529,705.6 1527,714 1520.3,721.5 1515,730 1522.6,732.3 1529,737 1525.9,745 1523,753 1514.4,755.8 1506.5,760.1 1499,765 1491,763.8 1482.7,763.4 1475.1,760.2 1467,759 1457.2,761.1 1448,765 1441,767.6 1434.5,771.3 1427,772.5 1420,775 1416,785 1408.4,789.2 1403,796 1396,801 1390,807.2 1382.1,810.9 1376,817 1373.2,824.8 1372,833 1365.8,838.9 1359,844 1350.4,849 1341,852 1334,851.5 1327,851 1320,851.5 1313,852 1305.2,854.8 1297.1,855.4 1289,856 1283,860.7 1277.8,866.2 1273,872 1272.4,880.1 1271.3,888.2 1269,896 1264.9,902.8 1262.9,910.4 1260.9,918 1256.9,924.8 1254,932 1245.6,935.2 1238,940 1229.7,936.5 1222,932 1214.8,932.1 1208,929.9 1201.1,928 1194,928 1187.1,923 1180.1,918 1174,912 1165.5,917.3 1158,924 1151.1,921.2 1144.1,918.9 1137.9,914.8 1131,912 1121.3,908.5 1111,908 1105,900 1105.9,908 1107,916 1113.7,921.3 1119,928 1116.9,935.5 1115,943 1123.4,944.8 1132,945 1127.2,952.7 1122,960 1127.1,965.2 1130,972 1125,981"/>
<polyline points="1551,678 1558.8,678.7 1566.3,676.4 1574,676 1581.4,677.2 1588.5,679.9 1595.8,681.7 1603.5,681.9 1610.8,683.9 1618,686 1626.4,682.8 1634.3,678.5 1642,674 1645.8,667.9 1650.7,662.8 1656,658"/>
<polyline points="1618,688 1623.1,694.2 1626.1,701.5 1629.1,708.9 1634.3,715 1638,722 1642.4,728.6 1645.8,735.7 1648,743.4 1652.1,750.1 1656,757"/>
<polyline points="1081,875 1082.1,882 1083,888.9 1083,896 1083.8,904.3 1085.9,912.3 1090.2,919.7 1091,928 1093.5,935.6 1094,943.8 1097.6,951.1 1099,959 1098,967"/>
<polyline points="1656,663 1644,670 1637,679"/>
<polyline points="351.25,250 357.5,255.6 362.7,262.4 367.6,269.3 374.1,274.7 381,279.7 386.6,286 392,292.5"/>
<polyline points="392,292.5 400.2,292.3 408.3,293.3 416.2,295.6 424.5,294.4 432.6,295 440.6,297.4 448.8,296.9 457,296.5 465,298"/>
<polyline points="365,440 367.8,448.6 372.2,456.5 377.1,464.3 381.2,472.3 383,481.4 386.5,489.8 391.2,497.5"/>
<polyline points="308,422.5 316,425.5 324.8,425.7 332.6,429.3 340.2,433.6 348.6,435.5 357.1,436.7 365,440"/>
<polyline points="308,401.25 306.6,411.9 308,422.5"/>
<polyline points="308,401.25 316.1,394.6 322.9,386.4 331.2,380"/>
<polyline points="331.25,380 332,371.8 333.7,363.7 336.1,355.8 335.6,347.4 335.6,339.1 337.3,331 340.3,323.2 342.8,315.2 341.7,306.8 341.9,298.5 344.6,290.6 347.8,282.7 347.2,274.3 347.9,266.1 349.9,258.1 351.2,250"/>
<polyline points="465,298 475.2,294.9 486,295.4 496.2,293"/>
<polyline points="496.25,293 506.4,298.1 516.2,303.8"/>
<polyline points="516.25,303.75 527.5,304.5 538.8,303"/>
<polyline points="538.75,303 546.4,307.3 553.1,312.8 558.8,319.7 567,323.2 573.8,328.8"/>
<polyline points="558.75,345 566.3,337 573.8,328.8"/>
<polyline points="467.5,570 471.5,583.8"/>
<polyline points="427.5,550 435.8,553.4 443,559.1 451.2,562.7 459.7,565.7 467.5,570"/>
<polyline points="391.25,497.5 396,505.3 402.4,512 407.9,519.2 411.5,527.8 416.2,535.6 422.1,542.7 427.5,550"/>
<polyline points="558.75,345 567,348.1 575.1,351.4 582.7,356 590.6,359.7 599.1,362.3 607.6,364.5 615.1,369.5 622.8,373.7 631.2,376.2"/>
<polyline points="631.25,376.25 640.8,377.3 650.4,375.9 660,377"/>
<polyline points="660,377 664.6,385 667.2,393.8 670,402.5"/>
<polyline points="662.5,430 663.9,420.5 668.3,411.9 670,402.5"/>
<polyline points="662.5,430 670.1,434.1 678.3,436.9 685,442.5"/>
<polyline points="685,442.5 687.5,450.4 688.9,458.5 689.1,466.8 690.7,474.9 694.5,482.5 695.4,490.8 695.6,499.1 698,507"/>
<polyline points="698,507 703.3,514.1 710.7,519.6 714.7,527.7 719.4,535.4 726.2,541.2"/>
<polyline points="726.25,541.25 732.4,547.3 739.4,552.1 747.5,555.4 753.8,561.2"/>
<polyline points="753.75,561.25 753.6,569.4 752.2,577.5 753.9,585.6 754.8,593.8 752.8,601.9 753.8,610"/>
<polyline points="712.5,616.25 720.6,613.9 729.2,614.8 737.3,612.9 745.4,610.5 753.8,610"/>
<polyline points="696.25,666.25 698.2,657.7 702.2,649.7 706.2,641.8 707.8,633.2 709,624.3 712.5,616.2"/>
<polyline points="668.75,672.5 678.3,672 687,667.9 696.2,666.2"/>
<polyline points="471.5,583.75 470.4,592.2 471.7,600.6 473.7,609 472.5,617.5"/>
<polyline points="441.25,623.75 451.6,621.1 462.4,621.3 472.5,617.5"/>
<polyline points="425,653.75 429.3,646.4 434.2,639.3 436.7,631 441.2,623.8"/>
<polyline points="425,653.75 430.4,659.8 436.7,664.7 443.5,669.1 448.4,675.7 454.1,681.3 460.8,685.9 467.8,690.1 473.3,696 478.4,702.3 483.4,708.7 491,712.3 496.9,717.7 501.3,724.8 508.1,729.2 514.5,734.1 520,740"/>
<polyline points="520,740 520.7,748 520.8,756.1 524.2,763.9 524.1,772 525,780"/>
<polyline points="525,780 527.5,787.9 531.3,795.4 533.2,803.5 533.9,812 536.7,819.8 540,827.5"/>
<polyline points="668.75,672.5 674.3,680 676.8,688.9 680,697.5"/>
<polyline points="587.5,892.5 587,902.3 589.3,911.8 591.2,921.2"/>
<polyline points="562.5,860 567.2,866.8 573.9,871.9 577.1,879.8 581.6,886.7 587.5,892.5"/>
<polyline points="540,827.5 544.1,836.7 551.1,843.9 558.2,850.9 562.5,860"/>
<polyline points="550,995 555.1,1002.4 560,1010"/>
<polyline points="550,995 555.7,988.7 558.6,980.4 563.6,973.5 570,967.7 573.8,960"/>
<polyline points="573.75,960 575.8,951.2 576.1,941.9 579.5,933.4 581.2,924.5"/>
<polyline points="581.25,924.5 591.2,921.2"/>
<polyline points="895,808.75 903.5,808.8 911.9,810 920.2,811.6 928.7,811.4 937.3,810.8 945.6,812.3 954,814.2 962.5,813.8"/>
<polyline points="962.5,813.75 963.5,821.8 967.1,829.3 967.5,837.5"/>
<polyline points="967.5,837.5 972.1,845.6 977.9,852.9 981.9,861.4 985.7,869.9 991.2,877.5"/>
<polyline points="880.5,840 883.7,832 886.5,823.8 892.6,817.1 895,808.8"/>
<polyline points="991.25,877.5 999.6,875.9 1008.1,876 1016.4,875 1024.6,872.4 1032.9,871 1041.5,871.5 1050,871.8 1058.2,869.4 1066.5,867.7 1075,867.5"/>
<polyline points="1075,867.5 1081.2,875"/>
<polyline points="1067.5,905 1070,897.1 1073,889.4 1078.8,882.9 1081.2,875"/>
<polyline points="1062.5,935 1065.2,925.2 1067.2,915.2 1067.5,905"/>
<polyline points="1050,945 1055.4,938.9 1062.5,935"/>
<polyline points="1050,945 1052.6,953.1 1057.3,960.1 1061.2,967.5"/>
<polyline points="1055,985 1059,976.6 1061.2,967.5"/>
<polyline points="533.75,1046.25 535,1055.9 536.5,1065.5 538.8,1075"/>
<polyline points="533.75,1046.25 540.1,1039.8 543.7,1031.3 548.2,1023.6 554.6,1017.1 560,1010"/>
<polyline points="570,1147.5 572.8,1155.3 577.6,1162.3 580.7,1170 582.7,1178.1 584.9,1186.1 589.6,1193.2 593.2,1200.6 595.1,1208.8 598.8,1216.2"/>
<polyline points="517.5,1112.5 524.8,1117.8 532.9,1121.9 540.5,1126.7 546.8,1133.5 554.8,1137.8 563.2,1141.5 570,1147.5"/>
<polyline points="512.5,1090 515.8,1101.1 517.5,1112.5"/>
<polyline points="512.5,1090 521.2,1084.9 529.5,1079.1 538.8,1075"/>
<polyline points="1055,985 1059.7,991.7 1063.8,998.8"/>
<polyline points="1063.75,998.75 1069.9,993.2 1073.4,985.5 1079,979.6 1085.1,974.1 1090,967.5"/>
<polyline points="1090,967.5 1098.8,967"/>
<polyline points="1098.75,967 1107.1,972.5 1115.4,978.1 1125,981.2"/>
<polyline points="1101.25,1010 1107.3,1002.9 1114.1,996.4 1118.9,988.3 1125,981.2"/>
<polyline points="1101.25,1010 1103.6,1017.8 1107.5,1025"/>
<polyline points="1107.5,1025 1115.9,1025.9 1124,1028"/>
<polyline points="1124,1028 1129.3,1021.9 1135.4,1016.4 1140.2,1009.8 1145,1003.2"/>
<polyline points="1145,1003.25 1153.2,1004.7 1161.6,1003.7 1169.8,1004.5 1177.9,1007 1186.2,1007"/>
<polyline points="1186.25,1007 1190.3,1017.6 1197.5,1026.2"/>
<polyline points="1182.5,1062.5 1187,1053.7 1190.2,1044.4 1192.3,1034.7 1197.5,1026.2"/>
<polyline points="1182.5,1062.5 1183.8,1070.8 1186.5,1078.7 1189.8,1086.4 1192.5,1094.3 1191.5,1103.1 1195.5,1110.7 1197.5,1118.8"/>
<polyline points="1185,1161.25 1188,1152.9 1188.8,1143.9 1192.8,1135.8 1196.2,1127.6 1197.5,1118.8"/>
<polyline points="1150,1167.5 1158.7,1165.5 1167.3,1163.1 1176.4,1163.9 1185,1161.2"/>
<polyline points="1150,1167.5 1154.3,1174.8 1160.1,1181.2 1164,1188.8 1166.7,1197.2 1172.1,1203.8 1178.1,1210 1182.3,1217.4 1186.2,1225"/>
<polyline points="1157.5,1250 1165.6,1244.8 1171.7,1237.3 1178.2,1230.3 1186.2,1225"/>
<polyline points="1157.5,1250 1166.9,1254.6 1175,1261.2"/>
<polyline points="1166.25,1271.25 1175,1261.2"/>
<polyline points="1166.25,1271.25 1173.6,1275.3 1180,1281 1187.4,1285.1 1195,1288.8"/>
<polyline points="1195,1288.75 1200.5,1295 1208,1299 1213.8,1305"/>
<polyline points="1213.75,1305 1218.1,1314.6 1225,1322.5"/>
<polyline points="1225,1322.5 1232.6,1331.3 1242.5,1337.5"/>
<polyline points="1242.5,1337.5 1250.4,1340.6 1258.4,1342.8 1267.1,1342.6 1275,1345.4 1283,1348"/>
<polyline points="1283,1348 1291.9,1347.2 1300.8,1348.8 1309.7,1348.9 1318.6,1346.3 1327.5,1346.5 1336.4,1347.2"/>
<polyline points="675,1461.25 681.6,1467 689.2,1471.4 696.9,1475.7 702.5,1482.7 709.4,1488.1 718.1,1491 724.7,1496.7 731.2,1502.5"/>
<polyline points="713.75,1525.5 718.1,1532.3 720.7,1540 723.5,1547.6 728.4,1554.1 732.6,1561 735,1568.8"/>
<polyline points="713.75,1525.5 718.5,1517 726.7,1511.2 731.2,1502.5"/>
<polyline points="645,1472.5 653,1471 660.2,1467.5 667.1,1463.1 675,1461.2"/>
<polyline points="607.5,1508.75 613.3,1502.3 621,1497.7 627.5,1492 632.7,1484.7 638.1,1477.9 645,1472.5"/>
<polyline points="571.25,1490 578.9,1493 586.1,1496.9 592.5,1502.2 599.6,1506.3 607.5,1508.8"/>
<polyline points="565,1508.75 568.3,1499.4 571.2,1490"/>
<polyline points="522.5,1510 531,1509.3 539.5,1510.6 548,1510.2 556.5,1508.5 565,1508.8"/>
<polyline points="522.5,1510 522.2,1501.5 524.8,1493.3 525.5,1484.9 524.2,1476.3 525,1467.9 527.1,1459.7 527.5,1451.2"/>
<polyline points="467.5,1430 476.4,1432.1 484.4,1436.8 493.1,1439.4 502.4,1440.5 510.4,1445.1 518.6,1449.1 527.5,1451.2"/>
<polyline points="451.25,1400 456.4,1406.9 457.9,1415.8 462.6,1422.9 467.5,1430"/>
<polyline points="451.25,1400 452.2,1391 452.6,1381.8 455.2,1373 457,1364.1 457.5,1355"/>
<polyline points="457.5,1355 463.1,1347.6 467.2,1339.5 470.4,1330.8 474.9,1322.8 481.2,1315.8 485,1307.5"/>
<polyline points="485,1307.5 491.9,1301.4 498.1,1294.5 506.7,1290.3 513.7,1284.4 520,1277.5"/>
<polyline points="520,1277.5 522,1268.8 521.2,1260"/>
<polyline points="521.25,1260 531.8,1260.2 542.1,1257.6 552.5,1256.2"/>
<polyline points="552.5,1256.25 560.3,1251.3 567,1245.3 572.6,1237.8 580,1232.5"/>
<polyline points="580,1232.5 586.8,1227.8 592.4,1221.6 598.8,1216.2"/>
</g>
<g fill="#fff" fill-opacity="0.55">
<circle cx="24" cy="268" r="4.2"/>
<circle cx="266.7" cy="348.3" r="4.2"/>
<circle cx="224" cy="515.7" r="4.2"/>
<circle cx="45" cy="578.3" r="4.2"/>
<circle cx="145.7" cy="581.7" r="4.2"/>
<circle cx="395.7" cy="376.7" r="4.2"/>
<circle cx="518" cy="499" r="4.2"/>
<circle cx="637" cy="116" r="4.2"/>
<circle cx="657.7" cy="233.3" r="4.2"/>
<circle cx="973" cy="274" r="4.2"/>
<circle cx="926" cy="404" r="4.2"/>
<circle cx="761.3" cy="437.7" r="4.2"/>
<circle cx="584.7" cy="473.3" r="4.2"/>
<circle cx="612" cy="588.3" r="4.2"/>
<circle cx="1370.7" cy="128.3" r="4.2"/>
<circle cx="1150" cy="195" r="4.2"/>
<circle cx="1290.7" cy="228.3" r="4.2"/>
<circle cx="1589" cy="218.3" r="4.2"/>
<circle cx="1593.3" cy="316.7" r="4.2"/>
<circle cx="1351.3" cy="428.3" r="4.2"/>
<circle cx="1618.3" cy="450" r="4.2"/>
<circle cx="1211.3" cy="470.7" r="4.2"/>
<circle cx="1510.7" cy="510" r="4.2"/>
<circle cx="1258.3" cy="589" r="4.2"/>
<circle cx="1573.3" cy="578.3" r="4.2"/>
<circle cx="1458" cy="600" r="4.2"/>
<circle cx="1225.7" cy="615" r="4.2"/>
<circle cx="1348" cy="662.7" r="4.2"/>
<circle cx="1305" cy="684.8" r="4.2"/>
<circle cx="1443.7" cy="703" r="4.2"/>
<circle cx="1143.4" cy="764" r="4.2"/>
<circle cx="33.3" cy="737.3" r="4.2"/>
<circle cx="108.3" cy="858.3" r="4.2"/>
<circle cx="385" cy="779" r="4.2"/>
<circle cx="31" cy="829" r="4.2"/>
<circle cx="499" cy="880.7" r="4.2"/>
<circle cx="274" cy="945.7" r="4.2"/>
<circle cx="25" cy="1023.3" r="4.2"/>
<circle cx="83.3" cy="1099" r="4.2"/>
<circle cx="77.3" cy="1123.3" r="4.2"/>
<circle cx="301.7" cy="1103.3" r="4.2"/>
<circle cx="247.3" cy="1190.7" r="4.2"/>
<circle cx="17.3" cy="1247.7" r="4.2"/>
<circle cx="460.7" cy="1226.7" r="4.2"/>
<circle cx="89" cy="1349.3" r="4.2"/>
<circle cx="232.3" cy="1575" r="4.2"/>
<circle cx="519.5" cy="498.75" r="4.2"/>
<circle cx="694.25" cy="750.75" r="4.2"/>
<circle cx="605.5" cy="850" r="4.2"/>
<circle cx="824.5" cy="858" r="4.2"/>
<circle cx="927" cy="888.75" r="4.2"/>
<circle cx="886.25" cy="957" r="4.2"/>
<circle cx="942" cy="986.25" r="4.2"/>
<circle cx="777" cy="1054.5" r="4.2"/>
<circle cx="1028.75" cy="1113.25" r="4.2"/>
<circle cx="942" cy="1166.25" r="4.2"/>
<circle cx="1059.25" cy="1167.5" r="4.2"/>
<circle cx="1152.5" cy="1127" r="4.2"/>
<circle cx="1186.75" cy="1196.75" r="4.2"/>
<circle cx="1167.5" cy="1309.25" r="4.2"/>
<circle cx="668" cy="1300.5" r="4.2"/>
<circle cx="955.5" cy="1366.25" r="4.2"/>
<circle cx="906.25" cy="1415.75" r="4.2"/>
<circle cx="672" cy="970" r="4.2"/>
<circle cx="697.5" cy="1086.25" r="4.2"/>
<circle cx="501.5" cy="6.5" r="4.2"/>
<circle cx="499" cy="145" r="4.2"/>
<circle cx="98" cy="1720" r="4.2"/>
<circle cx="986.7" cy="680.5" r="4.2"/>
<circle cx="839.8" cy="748.6" r="4.2"/>
</g>
<g class="lh" filter="url(#bh)">
<text class="n" text-anchor="middle" transform="translate(468.75 87.5) scale(0.95 1)">Castellbell</text>
<text class="n" text-anchor="middle" transform="translate(469 106) scale(0.95 1)">i el Vilar</text>
<text class="n" text-anchor="middle" transform="translate(659.25 87.5) scale(0.95 1)">Rellinars</text>
<text class="n" text-anchor="middle" transform="translate(1373.75 70) scale(0.95 1)">Caldes de</text>
<text class="n" text-anchor="middle" transform="translate(1374.25 90) scale(0.95 1)">Montbui</text>
<text class="n" text-anchor="middle" transform="translate(1543 55) scale(0.95 1)">Santa Eulàlia</text>
<text class="n" text-anchor="middle" transform="translate(1543 74) scale(0.95 1)">de Ronçana</text>
<text class="n" text-anchor="start" transform="translate(1600.5 9) scale(0.95 1)">del Vallès</text>
<text class="n" text-anchor="middle" transform="translate(298.8 162.7) scale(0.95 1)">Marganell</text>
<text class="s" text-anchor="start" transform="translate(508 151) scale(0.95 1)">el Borràs</text>
<text class="n" text-anchor="middle" transform="translate(912.8 151.7) scale(0.95 1)">Matadepera</text>
<text class="n" text-anchor="middle" transform="translate(1113 150) scale(0.95 1)">Castellar</text>
<text class="n" text-anchor="middle" transform="translate(1113.75 170) scale(0.95 1)">del Vallès</text>
<text class="n" text-anchor="middle" transform="translate(1290.7 185) scale(0.95 1)">Sentmenat</text>
<text class="n" text-anchor="middle" transform="translate(1544.5 195) scale(0.95 1)">Lliçà d&#x27;Amunt</text>
<text class="n" text-anchor="start" transform="translate(1634 153.3) scale(0.95 1)">Canovelles</text>
<text class="n" text-anchor="middle" transform="translate(208 219) scale(0.95 1)">el Bruc</text>
<text class="n" text-anchor="middle" transform="translate(441.7 207.3) scale(0.95 1)">Monistrol de</text>
<text class="n" text-anchor="middle" transform="translate(442.5 227.3) scale(0.95 1)">Montserrat</text>
<text class="n" text-anchor="middle" transform="translate(637.5 250.7) scale(0.95 1)">Vacarisses</text>
<text class="n" text-anchor="middle" transform="translate(75.8 281.7) scale(0.95 1)">Castellolí</text>
<text class="n" text-anchor="middle" transform="translate(919 353.7) scale(0.95 1)">Terrassa</text>
<text class="n" text-anchor="middle" transform="translate(1405.7 312.3) scale(0.95 1)">Palau-solità</text>
<text class="n" text-anchor="middle" transform="translate(1406.5 332.3) scale(0.95 1)">i Plegamans</text>
<text class="n" text-anchor="middle" transform="translate(1569.5 303.3) scale(0.95 1)">Lliçà de Vall</text>
<text class="n" text-anchor="middle" transform="translate(1573.7 364.3) scale(0.95 1)">Parets del</text>
<text class="n" text-anchor="middle" transform="translate(1573.2 384.3) scale(0.95 1)">Vallès</text>
<text class="n" text-anchor="middle" transform="translate(393.3 361.7) scale(0.95 1)">Collbató</text>
<text class="n" text-anchor="end" transform="translate(16.7 399) scale(0.95 1)">la Pobla de</text>
<text class="n" text-anchor="end" transform="translate(15 419) scale(0.95 1)">Claramunt</text>
<text class="n" text-anchor="middle" transform="translate(610.3 417.3) scale(0.95 1)">Olesa de</text>
<text class="n" text-anchor="middle" transform="translate(610.3 437.3) scale(0.95 1)">Montserrat</text>
<text class="n" text-anchor="middle" transform="translate(755.7 421.7) scale(0.95 1)">Viladecavalls</text>
<text class="n" text-anchor="middle" transform="translate(1192 431) scale(0.95 1)">Sabadell</text>
<text class="n" text-anchor="middle" transform="translate(1339.3 421) scale(0.95 1)">Polinyà</text>
<text class="n" text-anchor="middle" transform="translate(1507 435) scale(0.95 1)">Mollet del</text>
<text class="n" text-anchor="middle" transform="translate(1506.5 454.3) scale(0.95 1)">Vallès</text>
<text class="n" text-anchor="start" transform="translate(1588 427.7) scale(0.95 1)">Montmeló</text>
<text class="n" text-anchor="middle" transform="translate(479 435) scale(0.95 1)">Esparreguera</text>
<text class="n" text-anchor="middle" transform="translate(300.3 461.7) scale(0.95 1)">els Hostalets</text>
<text class="n" text-anchor="middle" transform="translate(300.8 481) scale(0.95 1)">de Pierola</text>
<text class="n" text-anchor="middle" transform="translate(1410.3 496.7) scale(0.95 1)">Santa Perpètua</text>
<text class="n" text-anchor="middle" transform="translate(1410.7 516.7) scale(0.95 1)">de Mogoda</text>
<text class="n" text-anchor="middle" transform="translate(1587 522.7) scale(0.95 1)">Martorelles</text>
<text class="n" text-anchor="end" transform="translate(36.7 531.7) scale(0.95 1)">Capellades</text>
<text class="n" text-anchor="middle" transform="translate(790.3 546.7) scale(0.95 1)">Ullastrell</text>
<text class="n" text-anchor="middle" transform="translate(1098.8 528.3) scale(0.95 1)">Sant Quirze</text>
<text class="n" text-anchor="middle" transform="translate(1099.5 548.3) scale(0.95 1)">del Vallès</text>
<text class="n" text-anchor="middle" transform="translate(1290.7 555) scale(0.95 1)">Barberà</text>
<text class="n" text-anchor="middle" transform="translate(1290.7 574.3) scale(0.95 1)">del Vallès</text>
<text class="n" text-anchor="start" transform="translate(1592.3 556) scale(0.95 1)">Santa Maria de</text>
<text class="n" text-anchor="start" transform="translate(1607.3 576) scale(0.95 1)">Martorelles</text>
<text class="n" text-anchor="middle" transform="translate(1487.7 589) scale(0.95 1)">la Llagosta</text>
<text class="n" text-anchor="middle" transform="translate(634.2 582.3) scale(0.95 1)">Abrera</text>
<text class="n" text-anchor="middle" transform="translate(174.7 615) scale(0.95 1)">Piera</text>
<text class="n" text-anchor="middle" transform="translate(334.7 645.7) scale(0.95 1)">Masquefa</text>
<text class="n" text-anchor="middle" transform="translate(939.8 639) scale(0.95 1)">Rubí</text>
<text class="n" text-anchor="middle" transform="translate(1229.8 636.7) scale(0.95 1)">Badia del</text>
<text class="n" text-anchor="middle" transform="translate(1229.8 656.7) scale(0.95 1)">Vallès</text>
<text class="n" text-anchor="middle" transform="translate(1345.7 646.7) scale(0.95 1)">Ripollet</text>
<text class="n" text-anchor="middle" transform="translate(1576.5 635) scale(0.95 1)">Sant Fost de</text>
<text class="n" text-anchor="middle" transform="translate(1576.8 656) scale(0.95 1)">Campsentelles</text>
<text class="n" text-anchor="middle" transform="translate(52.8 669) scale(0.95 1)">Cabrera</text>
<text class="n" text-anchor="middle" transform="translate(53 688.3) scale(0.95 1)">d&#x27;Anoia</text>
<text class="n" text-anchor="middle" transform="translate(1451.5 671) scale(0.95 1)">Montcada</text>
<text class="n" text-anchor="middle" transform="translate(1451.7 691) scale(0.95 1)">i Reixac</text>
<text class="s" text-anchor="middle" transform="translate(1491 717.7) scale(0.95 1)">Montcada</text>
<text class="n" text-anchor="middle" transform="translate(536.6 678.8) scale(0.95 1)">Sant Esteve</text>
<text class="n" text-anchor="middle" transform="translate(536.6 698.3) scale(0.95 1)">Sesrovires</text>
<text class="n" text-anchor="middle" transform="translate(803.5 713.75) scale(0.95 1)">Castellbisbal</text>
<text class="n" text-anchor="middle" transform="translate(656.9 728.3) scale(0.95 1)">Martorell</text>
<text class="n" text-anchor="middle" transform="translate(410.2 730.7) scale(0.95 1)">Sant Llorenç</text>
<text class="n" text-anchor="middle" transform="translate(409.7 750.7) scale(0.95 1)">d&#x27;Hortons</text>
<text class="s" text-anchor="middle" transform="translate(80.8 742.3) scale(0.95 1)">Canaletes</text>
<text class="n" text-anchor="middle" transform="translate(1267.4 735.5) scale(0.95 1)">Cerdanyola</text>
<text class="n" text-anchor="middle" transform="translate(1268 755.3) scale(0.95 1)">del Vallès</text>
<text class="n" text-anchor="end" transform="translate(71.7 787.3) scale(0.95 1)">Sant Pere de</text>
<text class="n" text-anchor="end" transform="translate(68.3 807.3) scale(0.95 1)">Riudebitlles</text>
<text class="n" text-anchor="middle" transform="translate(1495.6 791) scale(0.95 1)">Santa Coloma</text>
<text class="n" text-anchor="middle" transform="translate(1496 810) scale(0.95 1)">de Gramenet</text>
<text class="n" text-anchor="start" transform="translate(1586.4 804) scale(0.95 1)">Badalona</text>
<text class="n" text-anchor="middle" transform="translate(1110 814.7) scale(0.95 1)">Sant Cugat</text>
<text class="n" text-anchor="middle" transform="translate(1109.5 833.8) scale(0.95 1)">del Vallès</text>
<text class="n" text-anchor="middle" transform="translate(791 815) scale(0.95 1)">Sant Andreu</text>
<text class="n" text-anchor="middle" transform="translate(790.4 835) scale(0.95 1)">de la Barca</text>
<text class="n" text-anchor="middle" transform="translate(655.3 828.3) scale(0.95 1)">Castellví de</text>
<text class="n" text-anchor="middle" transform="translate(655.4 847.5) scale(0.95 1)">Rosanes</text>
<text class="n" text-anchor="end" transform="translate(4 840) scale(0.95 1)">Sant Quintí</text>
<text class="n" text-anchor="end" transform="translate(5.5 859) scale(0.95 1)">de Mediona</text>
<text class="s" text-anchor="middle" transform="translate(136.7 855) scale(0.95 1)">Lavit</text>
<text class="n" text-anchor="middle" transform="translate(90.2 876.7) scale(0.95 1)">Torrelavit</text>
<text class="n" text-anchor="middle" transform="translate(276.7 864.7) scale(0.95 1)">Sant Sadurní</text>
<text class="n" text-anchor="middle" transform="translate(276.8 884) scale(0.95 1)">d&#x27;Anoia</text>
<text class="n" text-anchor="middle" transform="translate(931.25 870.75) scale(0.95 1)">el Papiol</text>
<text class="n" text-anchor="middle" transform="translate(482.5 910.7) scale(0.95 1)">Gelida</text>
<text class="n" text-anchor="middle" transform="translate(693.75 919.5) scale(0.95 1)">Corbera de</text>
<text class="n" text-anchor="middle" transform="translate(694.4 939.5) scale(0.95 1)">Llobregat</text>
<text class="n" text-anchor="middle" transform="translate(854.75 951.25) scale(0.95 1)">Pallejà</text>
<text class="n" text-anchor="middle" transform="translate(996.6 953.75) scale(0.95 1)">Molins de Rei</text>
<text class="n" text-anchor="middle" transform="translate(85.2 957.3) scale(0.95 1)">el Pla del</text>
<text class="n" text-anchor="middle" transform="translate(85.5 976.7) scale(0.95 1)">Penedès</text>
<text class="n" text-anchor="end" transform="translate(65 1016.7) scale(0.95 1)">Puigdàlber</text>
<text class="n" text-anchor="middle" transform="translate(724.4 1032) scale(0.95 1)">Cervelló</text>
<text class="n" text-anchor="middle" transform="translate(327.2 1041.3) scale(0.95 1)">Subirats</text>
<text class="n" text-anchor="start" transform="translate(1292 1036.25) scale(0.95 1)">Barcelona</text>
<text class="n" text-anchor="middle" transform="translate(80.5 1062.3) scale(0.95 1)">Santa Fe del</text>
<text class="n" text-anchor="middle" transform="translate(80 1081.7) scale(0.95 1)">Penedès</text>
<text class="n" text-anchor="middle" transform="translate(904.75 1051.25) scale(0.95 1)">Sant Vicenç</text>
<text class="n" text-anchor="middle" transform="translate(905.4 1071.25) scale(0.95 1)">dels Horts</text>
<text class="n" text-anchor="middle" transform="translate(1127.5 1043.75) scale(0.95 1)">Sant Just</text>
<text class="n" text-anchor="middle" transform="translate(1127.25 1063.75) scale(0.95 1)">Desvern</text>
<text class="s" text-anchor="middle" transform="translate(345.5 1098.3) scale(0.95 1)">Sant Pau</text>
<text class="s" text-anchor="middle" transform="translate(340.3 1118) scale(0.95 1)">d&#x27;Ordal</text>
<text class="n" text-anchor="middle" transform="translate(1161.6 1095.75) scale(0.95 1)">Esplugues</text>
<text class="n" text-anchor="middle" transform="translate(1161.9 1115.75) scale(0.95 1)">de Llobregat</text>
<text class="n" text-anchor="end" transform="translate(50.7 1144.5) scale(0.95 1)">les Cabanyes</text>
<text class="n" text-anchor="middle" transform="translate(655 1137) scale(0.95 1)">Vallirana</text>
<text class="n" text-anchor="middle" transform="translate(950.6 1139.5) scale(0.95 1)">Santa Coloma</text>
<text class="n" text-anchor="middle" transform="translate(951.25 1159.5) scale(0.95 1)">de Cervelló</text>
<text class="n" text-anchor="middle" transform="translate(169.7 1159.3) scale(0.95 1)">Sant Cugat</text>
<text class="n" text-anchor="middle" transform="translate(169.7 1178.3) scale(0.95 1)">Sesgarrigues</text>
<text class="n" text-anchor="middle" transform="translate(1118.9 1188.25) scale(0.95 1)">Cornellà de</text>
<text class="n" text-anchor="middle" transform="translate(1119.4 1208.25) scale(0.95 1)">Llobregat</text>
<text class="s" text-anchor="middle" transform="translate(300 1196) scale(0.95 1)">Avinyó Nou</text>
<text class="n" text-anchor="middle" transform="translate(466.7 1196) scale(0.95 1)">Olesa de</text>
<text class="n" text-anchor="middle" transform="translate(467.2 1215) scale(0.95 1)">Bonesvalls</text>
<text class="n" text-anchor="middle" transform="translate(813 1191) scale(0.95 1)">Torrelles de</text>
<text class="n" text-anchor="middle" transform="translate(812.25 1210.75) scale(0.95 1)">Llobregat</text>
<text class="n" text-anchor="middle" transform="translate(1262.9 1211.25) scale(0.95 1)">l&#x27;Hospitalet</text>
<text class="n" text-anchor="middle" transform="translate(1263.4 1231.25) scale(0.95 1)">de Llobregat</text>
<text class="n" text-anchor="end" transform="translate(68.3 1219) scale(0.95 1)">Vilafranca</text>
<text class="n" text-anchor="end" transform="translate(79 1238.3) scale(0.95 1)">del Penedès</text>
<text class="n" text-anchor="middle" transform="translate(267.8 1235) scale(0.95 1)">Avinyonet</text>
<text class="n" text-anchor="middle" transform="translate(267.5 1254.3) scale(0.95 1)">del Penedès</text>
<text class="n" text-anchor="middle" transform="translate(855 1273.75) scale(0.95 1)">Sant Climent</text>
<text class="n" text-anchor="middle" transform="translate(855.6 1293.25) scale(0.95 1)">de Llobregat</text>
<text class="n" text-anchor="middle" transform="translate(1018.75 1269.25) scale(0.95 1)">Sant Boi de</text>
<text class="n" text-anchor="middle" transform="translate(1019.4 1289.25) scale(0.95 1)">Llobregat</text>
<text class="n" text-anchor="middle" transform="translate(609.4 1350.75) scale(0.95 1)">Begues</text>
<text class="s" text-anchor="middle" transform="translate(144.5 1365) scale(0.95 1)">Sant Miquel</text>
<text class="s" text-anchor="middle" transform="translate(139.2 1384.3) scale(0.95 1)">d&#x27;Olèrdola</text>
<text class="s" text-anchor="end" transform="translate(10 1345) scale(0.95 1)">Pacs</text>
<text class="n" text-anchor="middle" transform="translate(1184.4 1363.75) scale(0.95 1)">el Prat de</text>
<text class="n" text-anchor="middle" transform="translate(1185 1383.25) scale(0.95 1)">Llobregat</text>
<text class="n" text-anchor="middle" transform="translate(338.2 1399.3) scale(0.95 1)">Olivella</text>
<text class="n" text-anchor="middle" transform="translate(850 1407.5) scale(0.95 1)">Gavà</text>
<text class="n" text-anchor="middle" transform="translate(990 1412) scale(0.95 1)">Viladecans</text>
<text class="n" text-anchor="middle" transform="translate(83.8 1486.7) scale(0.95 1)">Canyelles</text>
<text class="n" text-anchor="middle" transform="translate(810.9 1513.25) scale(0.95 1)">Castelldefels</text>
<text class="n" text-anchor="middle" transform="translate(243.8 1550) scale(0.95 1)">Sant Pere</text>
<text class="n" text-anchor="middle" transform="translate(244.2 1569.3) scale(0.95 1)">de Ribes</text>
<text class="n" text-anchor="middle" transform="translate(490 1592.3) scale(0.95 1)">Sitges</text>
<text class="n" text-anchor="end" transform="translate(80 1646.7) scale(0.95 1)">Vilanova i</text>
<text class="n" text-anchor="end" transform="translate(75 1666.7) scale(0.95 1)">la Geltrú</text>
</g>
<g class="lb" filter="url(#bl)">
<text class="n" text-anchor="middle" transform="translate(468.75 87.5) scale(0.95 1)">Castellbell</text>
<text class="n" text-anchor="middle" transform="translate(469 106) scale(0.95 1)">i el Vilar</text>
<text class="n" text-anchor="middle" transform="translate(659.25 87.5) scale(0.95 1)">Rellinars</text>
<text class="n" text-anchor="middle" transform="translate(1373.75 70) scale(0.95 1)">Caldes de</text>
<text class="n" text-anchor="middle" transform="translate(1374.25 90) scale(0.95 1)">Montbui</text>
<text class="n" text-anchor="middle" transform="translate(1543 55) scale(0.95 1)">Santa Eulàlia</text>
<text class="n" text-anchor="middle" transform="translate(1543 74) scale(0.95 1)">de Ronçana</text>
<text class="n" text-anchor="start" transform="translate(1600.5 9) scale(0.95 1)">del Vallès</text>
<text class="n" text-anchor="middle" transform="translate(298.8 162.7) scale(0.95 1)">Marganell</text>
<text class="s" text-anchor="start" transform="translate(508 151) scale(0.95 1)">el Borràs</text>
<text class="n" text-anchor="middle" transform="translate(912.8 151.7) scale(0.95 1)">Matadepera</text>
<text class="n" text-anchor="middle" transform="translate(1113 150) scale(0.95 1)">Castellar</text>
<text class="n" text-anchor="middle" transform="translate(1113.75 170) scale(0.95 1)">del Vallès</text>
<text class="n" text-anchor="middle" transform="translate(1290.7 185) scale(0.95 1)">Sentmenat</text>
<text class="n" text-anchor="middle" transform="translate(1544.5 195) scale(0.95 1)">Lliçà d&#x27;Amunt</text>
<text class="n" text-anchor="start" transform="translate(1634 153.3) scale(0.95 1)">Canovelles</text>
<text class="n" text-anchor="middle" transform="translate(208 219) scale(0.95 1)">el Bruc</text>
<text class="n" text-anchor="middle" transform="translate(441.7 207.3) scale(0.95 1)">Monistrol de</text>
<text class="n" text-anchor="middle" transform="translate(442.5 227.3) scale(0.95 1)">Montserrat</text>
<text class="n" text-anchor="middle" transform="translate(637.5 250.7) scale(0.95 1)">Vacarisses</text>
<text class="n" text-anchor="middle" transform="translate(75.8 281.7) scale(0.95 1)">Castellolí</text>
<text class="n" text-anchor="middle" transform="translate(919 353.7) scale(0.95 1)">Terrassa</text>
<text class="n" text-anchor="middle" transform="translate(1405.7 312.3) scale(0.95 1)">Palau-solità</text>
<text class="n" text-anchor="middle" transform="translate(1406.5 332.3) scale(0.95 1)">i Plegamans</text>
<text class="n" text-anchor="middle" transform="translate(1569.5 303.3) scale(0.95 1)">Lliçà de Vall</text>
<text class="n" text-anchor="middle" transform="translate(1573.7 364.3) scale(0.95 1)">Parets del</text>
<text class="n" text-anchor="middle" transform="translate(1573.2 384.3) scale(0.95 1)">Vallès</text>
<text class="n" text-anchor="middle" transform="translate(393.3 361.7) scale(0.95 1)">Collbató</text>
<text class="n" text-anchor="end" transform="translate(16.7 399) scale(0.95 1)">la Pobla de</text>
<text class="n" text-anchor="end" transform="translate(15 419) scale(0.95 1)">Claramunt</text>
<text class="n" text-anchor="middle" transform="translate(610.3 417.3) scale(0.95 1)">Olesa de</text>
<text class="n" text-anchor="middle" transform="translate(610.3 437.3) scale(0.95 1)">Montserrat</text>
<text class="n" text-anchor="middle" transform="translate(755.7 421.7) scale(0.95 1)">Viladecavalls</text>
<text class="n" text-anchor="middle" transform="translate(1192 431) scale(0.95 1)">Sabadell</text>
<text class="n" text-anchor="middle" transform="translate(1339.3 421) scale(0.95 1)">Polinyà</text>
<text class="n" text-anchor="middle" transform="translate(1507 435) scale(0.95 1)">Mollet del</text>
<text class="n" text-anchor="middle" transform="translate(1506.5 454.3) scale(0.95 1)">Vallès</text>
<text class="n" text-anchor="start" transform="translate(1588 427.7) scale(0.95 1)">Montmeló</text>
<text class="n" text-anchor="middle" transform="translate(479 435) scale(0.95 1)">Esparreguera</text>
<text class="n" text-anchor="middle" transform="translate(300.3 461.7) scale(0.95 1)">els Hostalets</text>
<text class="n" text-anchor="middle" transform="translate(300.8 481) scale(0.95 1)">de Pierola</text>
<text class="n" text-anchor="middle" transform="translate(1410.3 496.7) scale(0.95 1)">Santa Perpètua</text>
<text class="n" text-anchor="middle" transform="translate(1410.7 516.7) scale(0.95 1)">de Mogoda</text>
<text class="n" text-anchor="middle" transform="translate(1587 522.7) scale(0.95 1)">Martorelles</text>
<text class="n" text-anchor="end" transform="translate(36.7 531.7) scale(0.95 1)">Capellades</text>
<text class="n" text-anchor="middle" transform="translate(790.3 546.7) scale(0.95 1)">Ullastrell</text>
<text class="n" text-anchor="middle" transform="translate(1098.8 528.3) scale(0.95 1)">Sant Quirze</text>
<text class="n" text-anchor="middle" transform="translate(1099.5 548.3) scale(0.95 1)">del Vallès</text>
<text class="n" text-anchor="middle" transform="translate(1290.7 555) scale(0.95 1)">Barberà</text>
<text class="n" text-anchor="middle" transform="translate(1290.7 574.3) scale(0.95 1)">del Vallès</text>
<text class="n" text-anchor="start" transform="translate(1592.3 556) scale(0.95 1)">Santa Maria de</text>
<text class="n" text-anchor="start" transform="translate(1607.3 576) scale(0.95 1)">Martorelles</text>
<text class="n" text-anchor="middle" transform="translate(1487.7 589) scale(0.95 1)">la Llagosta</text>
<text class="n" text-anchor="middle" transform="translate(634.2 582.3) scale(0.95 1)">Abrera</text>
<text class="n" text-anchor="middle" transform="translate(174.7 615) scale(0.95 1)">Piera</text>
<text class="n" text-anchor="middle" transform="translate(334.7 645.7) scale(0.95 1)">Masquefa</text>
<text class="n" text-anchor="middle" transform="translate(939.8 639) scale(0.95 1)">Rubí</text>
<text class="n" text-anchor="middle" transform="translate(1229.8 636.7) scale(0.95 1)">Badia del</text>
<text class="n" text-anchor="middle" transform="translate(1229.8 656.7) scale(0.95 1)">Vallès</text>
<text class="n" text-anchor="middle" transform="translate(1345.7 646.7) scale(0.95 1)">Ripollet</text>
<text class="n" text-anchor="middle" transform="translate(1576.5 635) scale(0.95 1)">Sant Fost de</text>
<text class="n" text-anchor="middle" transform="translate(1576.8 656) scale(0.95 1)">Campsentelles</text>
<text class="n" text-anchor="middle" transform="translate(52.8 669) scale(0.95 1)">Cabrera</text>
<text class="n" text-anchor="middle" transform="translate(53 688.3) scale(0.95 1)">d&#x27;Anoia</text>
<text class="n" text-anchor="middle" transform="translate(1451.5 671) scale(0.95 1)">Montcada</text>
<text class="n" text-anchor="middle" transform="translate(1451.7 691) scale(0.95 1)">i Reixac</text>
<text class="s" text-anchor="middle" transform="translate(1491 717.7) scale(0.95 1)">Montcada</text>
<text class="n" text-anchor="middle" transform="translate(536.6 678.8) scale(0.95 1)">Sant Esteve</text>
<text class="n" text-anchor="middle" transform="translate(536.6 698.3) scale(0.95 1)">Sesrovires</text>
<text class="n" text-anchor="middle" transform="translate(803.5 713.75) scale(0.95 1)">Castellbisbal</text>
<text class="n" text-anchor="middle" transform="translate(656.9 728.3) scale(0.95 1)">Martorell</text>
<text class="n" text-anchor="middle" transform="translate(410.2 730.7) scale(0.95 1)">Sant Llorenç</text>
<text class="n" text-anchor="middle" transform="translate(409.7 750.7) scale(0.95 1)">d&#x27;Hortons</text>
<text class="s" text-anchor="middle" transform="translate(80.8 742.3) scale(0.95 1)">Canaletes</text>
<text class="n" text-anchor="middle" transform="translate(1267.4 735.5) scale(0.95 1)">Cerdanyola</text>
<text class="n" text-anchor="middle" transform="translate(1268 755.3) scale(0.95 1)">del Vallès</text>
<text class="n" text-anchor="end" transform="translate(71.7 787.3) scale(0.95 1)">Sant Pere de</text>
<text class="n" text-anchor="end" transform="translate(68.3 807.3) scale(0.95 1)">Riudebitlles</text>
<text class="n" text-anchor="middle" transform="translate(1495.6 791) scale(0.95 1)">Santa Coloma</text>
<text class="n" text-anchor="middle" transform="translate(1496 810) scale(0.95 1)">de Gramenet</text>
<text class="n" text-anchor="start" transform="translate(1586.4 804) scale(0.95 1)">Badalona</text>
<text class="n" text-anchor="middle" transform="translate(1110 814.7) scale(0.95 1)">Sant Cugat</text>
<text class="n" text-anchor="middle" transform="translate(1109.5 833.8) scale(0.95 1)">del Vallès</text>
<text class="n" text-anchor="middle" transform="translate(791 815) scale(0.95 1)">Sant Andreu</text>
<text class="n" text-anchor="middle" transform="translate(790.4 835) scale(0.95 1)">de la Barca</text>
<text class="n" text-anchor="middle" transform="translate(655.3 828.3) scale(0.95 1)">Castellví de</text>
<text class="n" text-anchor="middle" transform="translate(655.4 847.5) scale(0.95 1)">Rosanes</text>
<text class="n" text-anchor="end" transform="translate(4 840) scale(0.95 1)">Sant Quintí</text>
<text class="n" text-anchor="end" transform="translate(5.5 859) scale(0.95 1)">de Mediona</text>
<text class="s" text-anchor="middle" transform="translate(136.7 855) scale(0.95 1)">Lavit</text>
<text class="n" text-anchor="middle" transform="translate(90.2 876.7) scale(0.95 1)">Torrelavit</text>
<text class="n" text-anchor="middle" transform="translate(276.7 864.7) scale(0.95 1)">Sant Sadurní</text>
<text class="n" text-anchor="middle" transform="translate(276.8 884) scale(0.95 1)">d&#x27;Anoia</text>
<text class="n" text-anchor="middle" transform="translate(931.25 870.75) scale(0.95 1)">el Papiol</text>
<text class="n" text-anchor="middle" transform="translate(482.5 910.7) scale(0.95 1)">Gelida</text>
<text class="n" text-anchor="middle" transform="translate(693.75 919.5) scale(0.95 1)">Corbera de</text>
<text class="n" text-anchor="middle" transform="translate(694.4 939.5) scale(0.95 1)">Llobregat</text>
<text class="n" text-anchor="middle" transform="translate(854.75 951.25) scale(0.95 1)">Pallejà</text>
<text class="n" text-anchor="middle" transform="translate(996.6 953.75) scale(0.95 1)">Molins de Rei</text>
<text class="n" text-anchor="middle" transform="translate(85.2 957.3) scale(0.95 1)">el Pla del</text>
<text class="n" text-anchor="middle" transform="translate(85.5 976.7) scale(0.95 1)">Penedès</text>
<text class="n" text-anchor="end" transform="translate(65 1016.7) scale(0.95 1)">Puigdàlber</text>
<text class="n" text-anchor="middle" transform="translate(724.4 1032) scale(0.95 1)">Cervelló</text>
<text class="n" text-anchor="middle" transform="translate(327.2 1041.3) scale(0.95 1)">Subirats</text>
<text class="n" text-anchor="start" transform="translate(1292 1036.25) scale(0.95 1)">Barcelona</text>
<text class="n" text-anchor="middle" transform="translate(80.5 1062.3) scale(0.95 1)">Santa Fe del</text>
<text class="n" text-anchor="middle" transform="translate(80 1081.7) scale(0.95 1)">Penedès</text>
<text class="n" text-anchor="middle" transform="translate(904.75 1051.25) scale(0.95 1)">Sant Vicenç</text>
<text class="n" text-anchor="middle" transform="translate(905.4 1071.25) scale(0.95 1)">dels Horts</text>
<text class="n" text-anchor="middle" transform="translate(1127.5 1043.75) scale(0.95 1)">Sant Just</text>
<text class="n" text-anchor="middle" transform="translate(1127.25 1063.75) scale(0.95 1)">Desvern</text>
<text class="s" text-anchor="middle" transform="translate(345.5 1098.3) scale(0.95 1)">Sant Pau</text>
<text class="s" text-anchor="middle" transform="translate(340.3 1118) scale(0.95 1)">d&#x27;Ordal</text>
<text class="n" text-anchor="middle" transform="translate(1161.6 1095.75) scale(0.95 1)">Esplugues</text>
<text class="n" text-anchor="middle" transform="translate(1161.9 1115.75) scale(0.95 1)">de Llobregat</text>
<text class="n" text-anchor="end" transform="translate(50.7 1144.5) scale(0.95 1)">les Cabanyes</text>
<text class="n" text-anchor="middle" transform="translate(655 1137) scale(0.95 1)">Vallirana</text>
<text class="n" text-anchor="middle" transform="translate(950.6 1139.5) scale(0.95 1)">Santa Coloma</text>
<text class="n" text-anchor="middle" transform="translate(951.25 1159.5) scale(0.95 1)">de Cervelló</text>
<text class="n" text-anchor="middle" transform="translate(169.7 1159.3) scale(0.95 1)">Sant Cugat</text>
<text class="n" text-anchor="middle" transform="translate(169.7 1178.3) scale(0.95 1)">Sesgarrigues</text>
<text class="n" text-anchor="middle" transform="translate(1118.9 1188.25) scale(0.95 1)">Cornellà de</text>
<text class="n" text-anchor="middle" transform="translate(1119.4 1208.25) scale(0.95 1)">Llobregat</text>
<text class="s" text-anchor="middle" transform="translate(300 1196) scale(0.95 1)">Avinyó Nou</text>
<text class="n" text-anchor="middle" transform="translate(466.7 1196) scale(0.95 1)">Olesa de</text>
<text class="n" text-anchor="middle" transform="translate(467.2 1215) scale(0.95 1)">Bonesvalls</text>
<text class="n" text-anchor="middle" transform="translate(813 1191) scale(0.95 1)">Torrelles de</text>
<text class="n" text-anchor="middle" transform="translate(812.25 1210.75) scale(0.95 1)">Llobregat</text>
<text class="n" text-anchor="middle" transform="translate(1262.9 1211.25) scale(0.95 1)">l&#x27;Hospitalet</text>
<text class="n" text-anchor="middle" transform="translate(1263.4 1231.25) scale(0.95 1)">de Llobregat</text>
<text class="n" text-anchor="end" transform="translate(68.3 1219) scale(0.95 1)">Vilafranca</text>
<text class="n" text-anchor="end" transform="translate(79 1238.3) scale(0.95 1)">del Penedès</text>
<text class="n" text-anchor="middle" transform="translate(267.8 1235) scale(0.95 1)">Avinyonet</text>
<text class="n" text-anchor="middle" transform="translate(267.5 1254.3) scale(0.95 1)">del Penedès</text>
<text class="n" text-anchor="middle" transform="translate(855 1273.75) scale(0.95 1)">Sant Climent</text>
<text class="n" text-anchor="middle" transform="translate(855.6 1293.25) scale(0.95 1)">de Llobregat</text>
<text class="n" text-anchor="middle" transform="translate(1018.75 1269.25) scale(0.95 1)">Sant Boi de</text>
<text class="n" text-anchor="middle" transform="translate(1019.4 1289.25) scale(0.95 1)">Llobregat</text>
<text class="n" text-anchor="middle" transform="translate(609.4 1350.75) scale(0.95 1)">Begues</text>
<text class="s" text-anchor="middle" transform="translate(144.5 1365) scale(0.95 1)">Sant Miquel</text>
<text class="s" text-anchor="middle" transform="translate(139.2 1384.3) scale(0.95 1)">d&#x27;Olèrdola</text>
<text class="s" text-anchor="end" transform="translate(10 1345) scale(0.95 1)">Pacs</text>
<text class="n" text-anchor="middle" transform="translate(1184.4 1363.75) scale(0.95 1)">el Prat de</text>
<text class="n" text-anchor="middle" transform="translate(1185 1383.25) scale(0.95 1)">Llobregat</text>
<text class="n" text-anchor="middle" transform="translate(338.2 1399.3) scale(0.95 1)">Olivella</text>
<text class="n" text-anchor="middle" transform="translate(850 1407.5) scale(0.95 1)">Gavà</text>
<text class="n" text-anchor="middle" transform="translate(990 1412) scale(0.95 1)">Viladecans</text>
<text class="n" text-anchor="middle" transform="translate(83.8 1486.7) scale(0.95 1)">Canyelles</text>
<text class="n" text-anchor="middle" transform="translate(810.9 1513.25) scale(0.95 1)">Castelldefels</text>
<text class="n" text-anchor="middle" transform="translate(243.8 1550) scale(0.95 1)">Sant Pere</text>
<text class="n" text-anchor="middle" transform="translate(244.2 1569.3) scale(0.95 1)">de Ribes</text>
<text class="n" text-anchor="middle" transform="translate(490 1592.3) scale(0.95 1)">Sitges</text>
<text class="n" text-anchor="end" transform="translate(80 1646.7) scale(0.95 1)">Vilanova i</text>
<text class="n" text-anchor="end" transform="translate(75 1666.7) scale(0.95 1)">la Geltrú</text>
</g>
<g stroke="#fff" stroke-width="1.5" stroke-linejoin="round" fill-opacity="0.8">
<polygon points="351.25,250 392,292.5 465,298 498.75,363.75 445,386.25 391.25,497.5 365,440 308,422.5 308,401.25 331.25,380" fill="#9d2937"/>
<polygon points="465,298 496.25,293 516.25,303.75 538.75,303 573.75,328.75 558.75,345 543.75,381.25 545,416.25 531.25,477.5 582.5,520 637.5,521.25 638.75,531.25 537.5,563.75 523.75,557.5 501.25,585 471.5,583.75 467.5,570 427.5,550 391.25,497.5 445,386.25 498.75,363.75" fill="#eb9465"/>
<polygon points="558.75,345 631.25,376.25 660,377 670,402.5 662.5,430 685,442.5 698,507 665.5,508 637.5,521.25 582.5,520 531.25,477.5 545,416.25 543.75,381.25" fill="#97c97c"/>
<polygon points="665.5,508 698,507 726.25,541.25 753.75,561.25 753.75,610 712.5,616.25 696.25,666.25 668.75,672.5 671.25,656.25 622.5,645 608.75,632.5 566.25,622 501.25,627.5 472.5,617.5 471.5,583.75 501.25,585 523.75,557.5 537.5,563.75 638.75,531.25 637.5,521.25" fill="#97c97c"/>
<polygon points="472.5,617.5 441.25,623.75 425,653.75 520,740 525,780 540,827.5 575,800 617.5,786.25 625,765 621.25,748 598.75,737.5 602.5,705 583.75,692.5 601.25,666.25 575,647.5 588.75,640 622.5,645 608.75,632.5 566.25,622 501.25,627.5" fill="#fcfac4"/>
<polygon points="588.75,640 622.5,645 671.25,656.25 668.75,672.5 680,697.5 697.5,706.25 701.25,733.75 738.75,777.5 752.5,760 761.5,791.25 745,800 695,783.75 662.5,817.5 660,825 633.75,830 617.5,786.25 625,765 621.25,748 598.75,737.5 602.5,705 583.75,692.5 601.25,666.25 575,647.5" fill="#fcfac4"/>
<polygon points="540,827.5 575,800 617.5,786.25 633.75,830 660,825 662.5,817.5 695,783.75 745,800 759.5,825 739.5,860 748,877.5 718.5,906 591.25,921.25 587.5,892.5 562.5,860" fill="#97c97c"/>
<polygon points="745,800 761.5,791.25 785,807.5 815,788.75 828.75,818.75 831.25,838.75 850,865 832.5,882 817.5,873.75 767.5,885 748,877.5 739.5,860 759.5,825" fill="#9d2937"/>
<polygon points="591.25,921.25 718.5,906 748,877.5 767.5,885 817.5,873.75 832.5,882 850,865 867.5,883.75 857.5,905 821.25,916.25 788.75,953.75 737,962 737,972 721.7,967.8 713.75,981.5 637,1023.75 560,1010 550,995 573.75,960 581.25,924.5" fill="#346e46"/>
<polygon points="867.5,883.75 909.5,955 922,996.25 892.5,1011.25 863.75,1007.5 843.75,982.5 835,986.25 792.5,968 737,972 737,962 788.75,953.75 821.25,916.25 857.5,905" fill="#97c97c"/>
<polygon points="721.7,967.8 737,972 792.5,968 835,986.25 843.75,982.5 863.75,1007.5 866,1016 847,1038.75 786.25,998.75 755,1018.75 735,1011.5 725,986.25 713.75,981.5" fill="#fba464"/>
<polygon points="895,808.75 962.5,813.75 967.5,837.5 991.25,877.5 976.25,912.5 909.5,955 881.25,895 880.5,840" fill="#fcfac4"/>
<polygon points="991.25,877.5 1075,867.5 1081.25,875 1067.5,905 1062.5,935 1050,945 1061.25,967.5 1055,985 1017.5,1007.5 995,1037.5 1002,1050 956.25,1082.5 955,1051.25 922,996.25 909.5,955 976.25,912.5" fill="#eb9465"/>
<polygon points="863.75,1007.5 892.5,1011.25 922,996.25 955,1051.25 956.25,1082.5 971.25,1106.25 896.25,1146.5 871.25,1132.5 855,1135 832.5,1123.75 860,1063.75 882.5,1051.25 883.75,1030 866,1016" fill="#97c97c"/>
<polygon points="560,1010 637,1023.75 713.75,981.5 725,986.25 735,1011.5 755,1018.75 786.25,998.75 847,1038.75 866,1016 883.75,1030 882.5,1051.25 860,1063.75 832.5,1123.75 855,1135 830,1166.5 793,1174.75 761.25,1165.5 737.5,1074.5 718.75,1051.5 687.5,1061.25 658.75,1083.25 616.25,1072 538.75,1075 533.75,1046.25" fill="#97c97c"/>
<polygon points="538.75,1075 616.25,1072 658.75,1083.25 687.5,1061.25 718.75,1051.5 737.5,1074.5 761.25,1165.5 750,1188.75 733,1233.75 598.75,1216.25 570,1147.5 517.5,1112.5 512.5,1090" fill="#fcfac4"/>
<polygon points="761.25,1165.5 793,1174.75 830,1166.5 855,1135 871.25,1132.5 896.25,1146.5 905,1160 890,1208 860,1253.75 810,1270 777.5,1297.5 733,1283.75 733,1233.75 750,1188.75" fill="#fcfac4"/>
<polygon points="971.25,1106.25 1000,1153 1035,1190 990,1190 967,1207.5 951.25,1196.25 932.5,1205 890,1208 905,1160 896.25,1146.5" fill="#9d2937"/>
<polygon points="1017.5,1007.5 1055,985 1063.75,998.75 1090,967.5 1098.75,967 1125,981.25 1101.25,1010 1107.5,1025 1124,1028 1116,1044 1070,1067.5 1070,1106.25 1052.5,1118.75 1000,1153 971.25,1106.25 956.25,1082.5 1002,1050 995,1037.5" fill="#fcfac4"/>
<polygon points="1124,1028 1145,1003.25 1186.25,1007 1197.5,1026.25 1182.5,1062.5 1143.75,1083.75 1115,1143.75 1087.5,1121.25 1052.5,1118.75 1070,1106.25 1070,1067.5 1116,1044" fill="#346e46"/>
<polygon points="1182.5,1062.5 1197.5,1118.75 1185,1161.25 1150,1167.5 1126.25,1158.75 1115,1143.75 1143.75,1083.75" fill="#eb9465"/>
<polygon points="1052.5,1118.75 1087.5,1121.25 1115,1143.75 1126.25,1158.75 1085,1185 1067.5,1182 1057.5,1210 1065,1217.5 1043.75,1241.25 1012.5,1233.75 1002.5,1218.25 1035,1190 1000,1153" fill="#fcfac4"/>
<polygon points="1126.25,1158.75 1150,1167.5 1186.25,1225 1157.5,1250 1175,1261.25 1166.25,1271.25 1140,1246.25 1115,1242.5 1097.5,1255 1043.75,1241.25 1065,1217.5 1057.5,1210 1067.5,1182 1085,1185" fill="#97c97c"/>
<polygon points="890,1208 932.5,1205 951.25,1196.25 967,1207.5 990,1190 1035,1190 1002.5,1218.25 1012.5,1233.75 1043.75,1241.25 1097.5,1255 1107.5,1277.5 1126.25,1271.25 1093.75,1316.25 1110,1336.25 1078.75,1366.25 1090,1400 1061.25,1417.5 1073.75,1455 1097.5,1471.25 1098.75,1485 1067.5,1463.75 1027,1380 943.75,1287.5 928.75,1282.5" fill="#a6d97d"/>
<polygon points="1097.5,1255 1115,1242.5 1140,1246.25 1166.25,1271.25 1195,1288.75 1213.75,1305 1225,1322.5 1242.5,1337.5 1283,1348 1336.4,1347.2 1334.4,1358.5 1347,1369.7 1316.6,1408.8 1312.6,1428.7 1295.4,1425.4 1284.8,1436.6 1252.5,1448.75 1210,1473.75 1160,1497.5 1107.5,1518.75 1098.75,1485 1097.5,1471.25 1073.75,1455 1061.25,1417.5 1090,1400 1078.75,1366.25 1110,1336.25 1093.75,1316.25 1126.25,1271.25 1107.5,1277.5" fill="#346e46"/>
<polygon points="928.75,1282.5 943.75,1287.5 1027,1380 1067.5,1463.75 1098.75,1485 1107.5,1518.75 1030.5,1541.25 972.5,1477.5 972.5,1453.75 950,1421.25 900,1382.5 860,1368.75 863.75,1346.25 908.75,1323.75" fill="#eb9465"/>
<polygon points="890,1208 928.75,1282.5 908.75,1323.75 863.75,1346.25 860,1368.75 791.25,1340 775,1347.5 768,1336.5 785,1324 777.5,1297.5 810,1270 860,1253.75" fill="#346e46"/>
<polygon points="768,1336.5 775,1347.5 791.25,1340 860,1368.75 900,1382.5 950,1421.25 972.5,1453.75 972.5,1477.5 1030.5,1541.25 960,1558.75 905,1564.5 863.75,1464.5 827.5,1442.5 731.25,1502.5 675,1461.25 691.25,1452.5 697.5,1420 738.75,1359.5" fill="#346e46"/>
<polygon points="731.25,1502.5 827.5,1442.5 863.75,1464.5 905,1564.5 735,1568.75 713.75,1525.5" fill="#346e46"/>
<polygon points="598.75,1216.25 733,1233.75 733,1283.75 777.5,1297.5 785,1324 768,1336.5 738.75,1359.5 697.5,1420 691.25,1452.5 675,1461.25 645,1472.5 607.5,1508.75 571.25,1490 565,1508.75 522.5,1510 527.5,1451.25 467.5,1430 451.25,1400 457.5,1355 485,1307.5 520,1277.5 521.25,1260 552.5,1256.25 580,1232.5" fill="#fcfac4"/>
</g>
</svg>
<div class="header"><svg class="hd" width="1656" height="125" viewBox="0 0 1656 125">
<defs><linearGradient id="lg" gradientUnits="userSpaceOnUse" x1="70" y1="24" x2="95" y2="100"><stop offset="0" stop-color="#4dae99"/><stop offset="0.45" stop-color="#3f8f88"/><stop offset="1" stop-color="#1b3450"/></linearGradient></defs>
<path fill="url(#lg)" fill-rule="evenodd" d="M81.700 23.900c18.800 0 34 17.100 34 38.200s-15.200 38.200-34 38.200-34-17.100-34-38.200 15.200-38.200 34-38.200zM80.700 32c-14.500 0-26.200 12.800-26.200 28.700s11.700 28.700 26.200 28.700 26.200-12.800 26.200-28.700-11.700-28.700-26.200-28.700z"/>
<path fill="none" stroke="url(#lg)" stroke-width="8.200" d="M90.400 64.300A17.700 17.700 0 0 0 58.600 71.500C56.300 79 58.500 88.500 71.500 93.300"/>
<path fill="none" stroke="#e9e9e9" stroke-width="0.800" d="M60.300 55.500C55.500 62 53 70 53.300 79"/>
<g font-family="'Liberation Sans',sans-serif" font-size="17">
<text x="126.700" y="58.200" font-weight="700" fill="#4aaa96" textLength="85" lengthAdjust="spacingAndGlyphs">Observatori</text>
<text x="216.800" y="58.200" fill="#1d3b54" textLength="67.700" lengthAdjust="spacingAndGlyphs">Comarcal</text>
<text x="126.700" y="75.800" fill="#1d3b54" textLength="21.300" lengthAdjust="spacingAndGlyphs">del</text>
<text x="154.800" y="75.800" font-weight="700" fill="#1d3b54" textLength="105.200" lengthAdjust="spacingAndGlyphs">Baix Llobregat</text>
</g>
<text x="335.200" y="71.700" font-family="'Liberation Sans',sans-serif" font-size="25.500" fill="#3a3a3a" stroke="#3a3a3a" stroke-width=".35" textLength="627" lengthAdjust="spacingAndGlyphs">VARIACIÓ (%) ASSALARIATS. 4T 2024. BAIX LLOBREGAT</text>
<g fill="#3a63b0"><rect x="1573" y="49" width="36" height="4"/><rect x="1573" y="59" width="36" height="4"/><rect x="1573" y="69" width="36" height="4"/></g>
</svg></div>
<div class="btn-layers"><svg width="48" height="48" viewBox="0 0 24 24"><path fill="#fff" d="M11.990 18.540l-7.370-5.730L3 14.070l9 7 9-7-1.630-1.270-7.380 5.740zM12 16l7.360-5.730L21 9l-9-7-9 7 1.630 1.270L12 16z"/></svg></div>
<div class="legend"><svg class="leg" width="265" height="800" viewBox="0 0 265 800">
<text class="lt" x="32" y="42" textLength="164" lengthAdjust="spacingAndGlyphs">Var.% 2008-2024</text>
<rect x="59" y="63" width="29" height="29" fill="#b0535f"/>
<text class="li" x="100.5" y="78" textLength="88" lengthAdjust="spacingAndGlyphs">&lt; -10% (3)</text>
<rect x="59" y="103" width="29" height="29" fill="#f2ad85"/>
<text class="li" x="100.5" y="118" textLength="116" lengthAdjust="spacingAndGlyphs">-10% - 0% (4)</text>
<rect x="59" y="143" width="29" height="29" fill="#ffffd8"/>
<text class="li" x="100.5" y="158" textLength="109.5" lengthAdjust="spacingAndGlyphs">0% - 10% (6)</text>
<rect x="59" y="183" width="29" height="29" fill="#add894"/>
<text class="li" x="100.5" y="198" textLength="119" lengthAdjust="spacingAndGlyphs">10% - 20% (6)</text>
<rect x="59" y="223" width="29" height="29" fill="#5f8d6e"/>
<text class="li" x="100.5" y="238" textLength="87.4" lengthAdjust="spacingAndGlyphs">&gt;20% (11)</text>
<text class="lt" x="32" y="310" textLength="164" lengthAdjust="spacingAndGlyphs">Var.% 2019-2024</text>
<rect x="59" y="331" width="29" height="29" fill="#b0535f"/>
<text class="li" x="100.5" y="346" textLength="83" lengthAdjust="spacingAndGlyphs">&lt;-10% (2)</text>
<rect x="59" y="371" width="29" height="29" fill="#f2ad85"/>
<text class="li" x="100.5" y="386" textLength="116" lengthAdjust="spacingAndGlyphs">-10% - 0% (4)</text>
<rect x="59" y="411" width="29" height="29" fill="#ffffd8"/>
<text class="li" x="100.5" y="426" textLength="121" lengthAdjust="spacingAndGlyphs">0% - 10% (11)</text>
<rect x="59" y="451" width="29" height="29" fill="#add894"/>
<text class="li" x="100.5" y="466" textLength="131.4" lengthAdjust="spacingAndGlyphs">10% - 20% (10)</text>
<rect x="59" y="491" width="29" height="29" fill="#5f8d6e"/>
<text class="li" x="100.5" y="506" textLength="76.6" lengthAdjust="spacingAndGlyphs">&gt;20% (4)</text>
<text class="lt" x="32" y="578" textLength="163.5" lengthAdjust="spacingAndGlyphs">Var.% 2023-2024</text>
<rect x="59" y="599" width="29" height="29" fill="#b0535f"/>
<text class="li" x="100.5" y="614" textLength="89" lengthAdjust="spacingAndGlyphs">&lt;-2.5% (3)</text>
<rect x="59" y="639" width="29" height="29" fill="#f2ad85"/>
<text class="li" x="100.5" y="654" textLength="113" lengthAdjust="spacingAndGlyphs">-2.5%- 0%(5)</text>
<rect x="59" y="679" width="29" height="29" fill="#ffffd8"/>
<text class="li" x="100.5" y="694" textLength="125.7" lengthAdjust="spacingAndGlyphs">0% - 2.5% (10)</text>
<rect x="59" y="719" width="29" height="29" fill="#add894"/>
<text class="li" x="100.5" y="734" textLength="115" lengthAdjust="spacingAndGlyphs">2.5% - 5% (8)</text>
<rect x="59" y="759" width="29" height="29" fill="#5f8d6e"/>
<text class="li" x="100.5" y="774" textLength="65.7" lengthAdjust="spacingAndGlyphs">&gt;5% (6)</text>
</svg><div class="track"></div><div class="thumb"></div></div>
<div class="btn-list"><i style="left:16px;top:28px;width:8px"></i><i style="left:26px;top:28px;width:26px"></i><i style="left:16px;top:38px;width:8px"></i><i style="left:26px;top:38px;width:26px"></i><i style="left:16px;top:48px;width:8px"></i><i style="left:26px;top:48px;width:26px"></i></div>
<div class="shade"></div>
<div class="edge"></div>
</body></html>
